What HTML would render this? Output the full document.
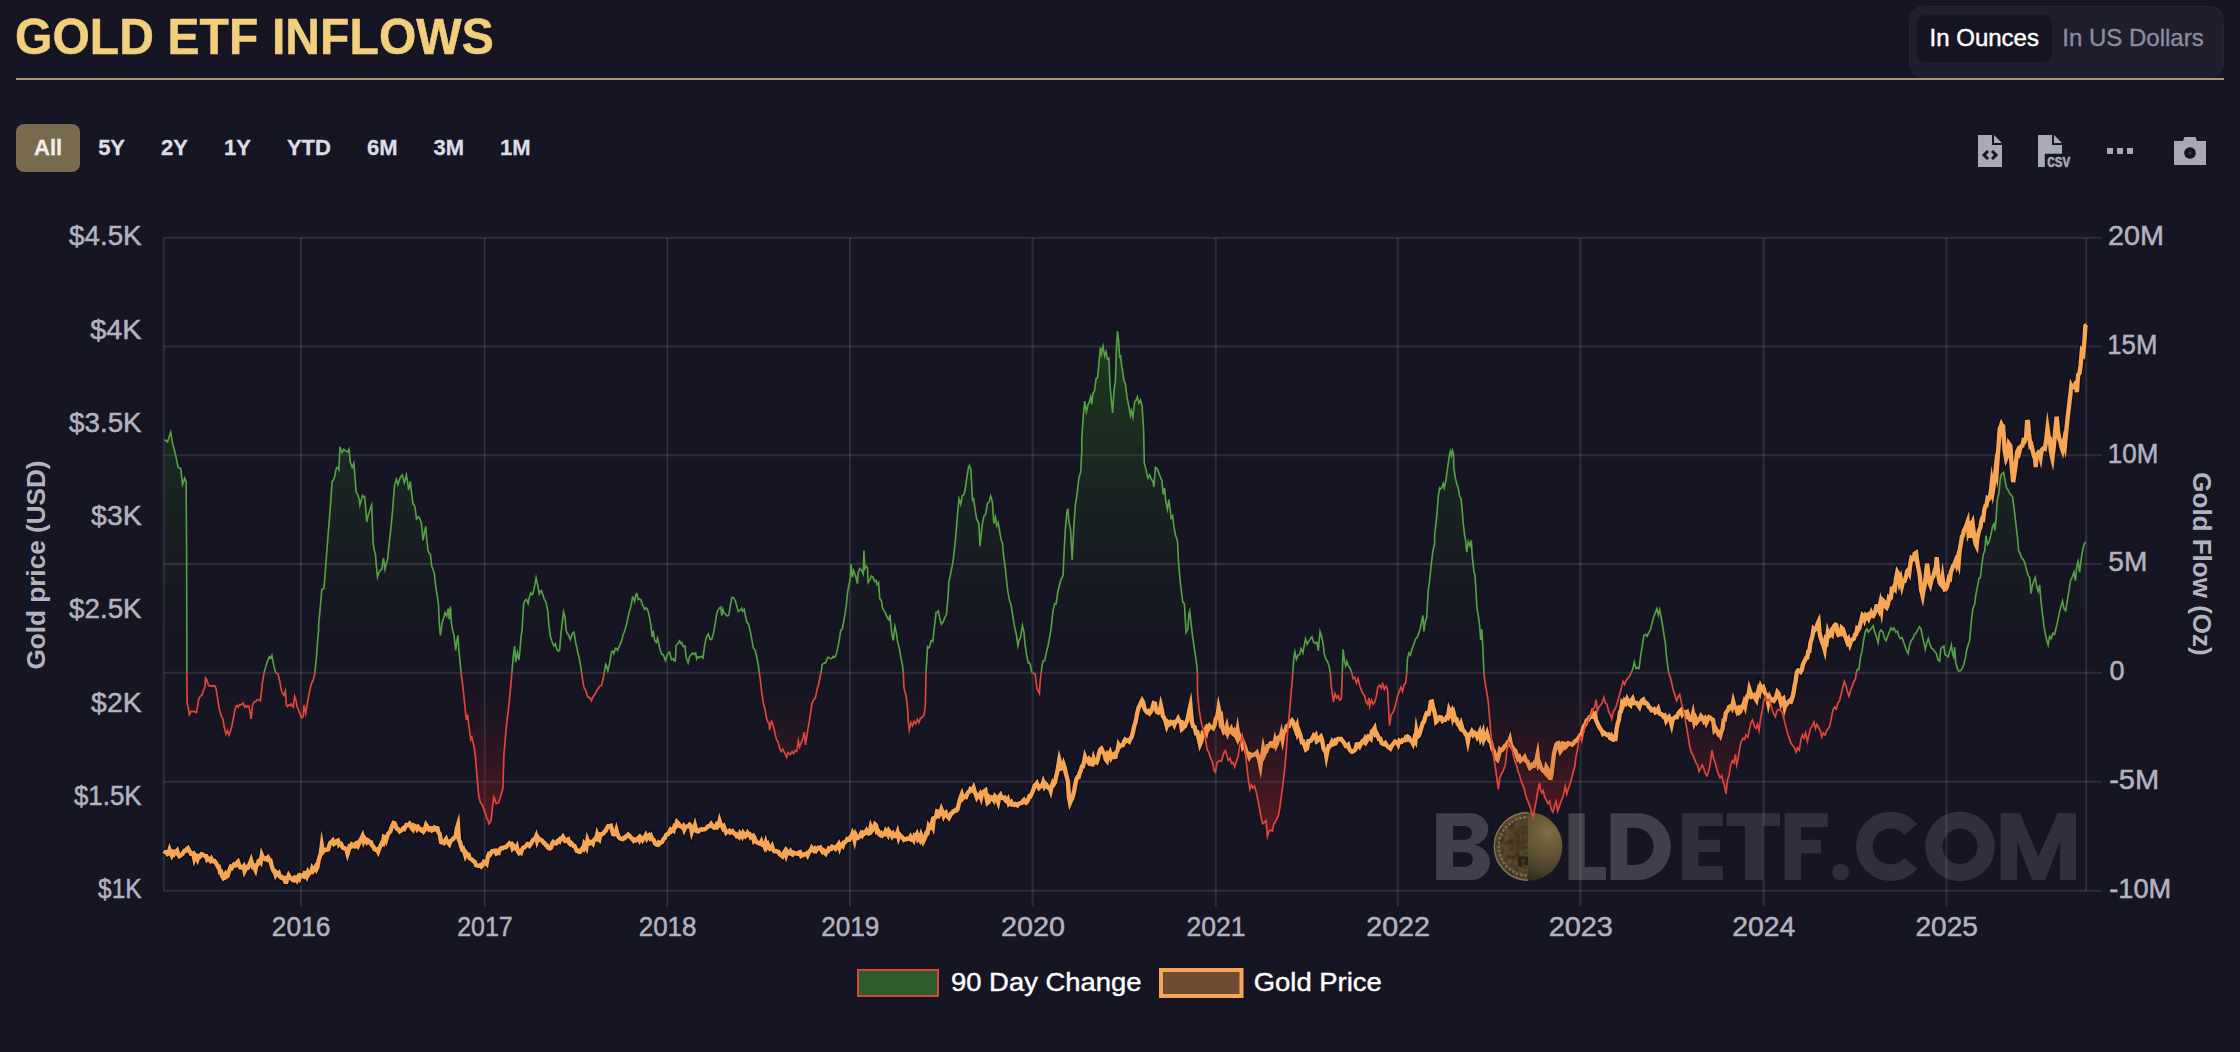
<!DOCTYPE html>
<html><head><meta charset="utf-8"><title>Gold ETF Inflows</title>
<style>
html,body{margin:0;padding:0;}
body{width:2240px;height:1052px;background:#161523;overflow:hidden;position:relative;font-family:"Liberation Sans",sans-serif;}
.title{position:absolute;left:15px;top:6.6px;font-size:48px;font-weight:bold;color:#f2cf7c;line-height:62px;white-space:nowrap;letter-spacing:0.1px;transform:scale(1,1.025);transform-origin:0 48px;-webkit-text-stroke:0.5px #f2cf7c;}
.rule{position:absolute;left:16px;top:78px;width:2208px;height:2px;background:#a79879;}
.toggle{position:absolute;left:1909px;top:6px;width:315px;height:72px;background:#1f1e2f;border-radius:14px;box-sizing:border-box;border:1px solid #242437;}
.toggle .on{position:absolute;left:7px;top:8px;width:134.5px;height:46.5px;border-radius:8px;background:#161523;color:#fff;font-size:24px;line-height:46px;text-align:center;-webkit-text-stroke:0.45px #fff;}
.toggle .off{position:absolute;left:140.5px;top:8px;width:165px;height:46.5px;color:#8c8c9b;font-size:24px;line-height:46px;text-align:center;-webkit-text-stroke:0.35px #8c8c9b;}
.tabs{position:absolute;left:16px;top:124px;height:48px;display:flex;}
.tabs div{height:48px;line-height:47px;padding:0 18px;font-size:22px;font-weight:bold;color:#dcdce6;border-radius:8px;-webkit-text-stroke:0.3px;}
.tabs div.act{background:#786a4f;color:#f3eee4;}
</style></head><body>
<div class="title">GOLD ETF INFLOWS</div>
<div class="rule"></div>
<div class="toggle"><div class="on">In Ounces</div><div class="off">In US Dollars</div></div>
<div class="tabs"><div class="act">All</div><div>5Y</div><div>2Y</div><div>1Y</div><div>YTD</div><div>6M</div><div>3M</div><div>1M</div></div>
<svg width="2240" height="1052" viewBox="0 0 2240 1052" style="position:absolute;left:0;top:0">
<defs>
<linearGradient id="gf" gradientUnits="userSpaceOnUse" x1="0" y1="237.8" x2="0" y2="890.8"><stop offset="0.0000" stop-color="#2a8a14" stop-opacity="0.4700"/><stop offset="0.0666" stop-color="#2a8a14" stop-opacity="0.4013"/><stop offset="0.1332" stop-color="#2a8a14" stop-opacity="0.3363"/><stop offset="0.1998" stop-color="#2a8a14" stop-opacity="0.2753"/><stop offset="0.2665" stop-color="#2a8a14" stop-opacity="0.2184"/><stop offset="0.3331" stop-color="#2a8a14" stop-opacity="0.1662"/><stop offset="0.3997" stop-color="#2a8a14" stop-opacity="0.1189"/><stop offset="0.4663" stop-color="#2a8a14" stop-opacity="0.0772"/><stop offset="0.5329" stop-color="#2a8a14" stop-opacity="0.0420"/><stop offset="0.5995" stop-color="#2a8a14" stop-opacity="0.0149"/><stop offset="0.6662" stop-color="#2a8a14" stop-opacity="0.0000"/><stop offset="0.6662" stop-color="#aa1e1c" stop-opacity="0.0000"/><stop offset="0.6995" stop-color="#aa1e1c" stop-opacity="0.0179"/><stop offset="0.7329" stop-color="#aa1e1c" stop-opacity="0.0562"/><stop offset="0.7663" stop-color="#aa1e1c" stop-opacity="0.1097"/><stop offset="0.7997" stop-color="#aa1e1c" stop-opacity="0.1764"/><stop offset="0.8331" stop-color="#aa1e1c" stop-opacity="0.2549"/><stop offset="0.8665" stop-color="#aa1e1c" stop-opacity="0.3444"/><stop offset="0.8998" stop-color="#aa1e1c" stop-opacity="0.4441"/><stop offset="0.9332" stop-color="#aa1e1c" stop-opacity="0.5536"/><stop offset="0.9666" stop-color="#aa1e1c" stop-opacity="0.6723"/><stop offset="1.0000" stop-color="#aa1e1c" stop-opacity="0.8000"/></linearGradient>
<clipPath id="cu"><rect x="159.8" y="200" width="1930.4" height="472.8"/></clipPath>
<clipPath id="cd"><rect x="159.8" y="672.8" width="1930.4" height="327.2"/></clipPath>
<clipPath id="cc"><circle cx="1528" cy="846.4" r="33"/></clipPath>
<filter id="tex" x="0" y="0" width="100%" height="100%" color-interpolation-filters="sRGB"><feTurbulence type="fractalNoise" baseFrequency="0.2" numOctaves="2" seed="4" result="n"/><feColorMatrix in="n" type="matrix" values="0 0 0 0 0.2  0 0 0 0 0.15  0 0 0 0 0.08  1.4 1.0 0 0 -0.95"/></filter>
<clipPath id="cl"><rect x="1400" y="800" width="128" height="100"/></clipPath>
<clipPath id="cr"><rect x="1528" y="800" width="100" height="100"/></clipPath>
<radialGradient id="sph" gradientUnits="userSpaceOnUse" cx="1548.5" cy="832.5" r="48">
<stop offset="0" stop-color="#7d6f45"/><stop offset="0.2" stop-color="#6f623d"/><stop offset="0.5" stop-color="#5f5335"/><stop offset="0.8" stop-color="#4a3f2a"/><stop offset="1" stop-color="#342c1f"/>
</radialGradient>
<radialGradient id="coin" gradientUnits="userSpaceOnUse" cx="1528" cy="846.4" r="34.4">
<stop offset="0" stop-color="#5a4829"/><stop offset="0.6" stop-color="#65532f"/><stop offset="0.8" stop-color="#6f5c36"/><stop offset="0.93" stop-color="#87744a"/><stop offset="1" stop-color="#6a5a3a"/>
</radialGradient>
</defs>
<g fill="#403f4c">
<rect x="1436.1" y="813.3" width="35" height="66.7"/><ellipse cx="1470.5" cy="829.2" rx="17.8" ry="15.9"/><ellipse cx="1471" cy="862.3" rx="19" ry="17.7"/>
<path d="M1568.5 813.3 H1584.8 V867 H1606 V880 H1568.5 Z"/>
<path fill-rule="evenodd" d="M1610.7 813.3 H1637.6 A33.35 33.35 0 0 1 1637.6 880 H1610.7 Z M1627.2 827.8 H1634.9 A18.6 18.6 0 0 1 1634.9 865 H1627.2 Z"/>
</g>
<path fill="#161523" d="M1453 826.1 H1465 A6.85 6.85 0 0 1 1465 839.8 H1453 Z M1453 852.2 H1465.6 A7.25 7.25 0 0 1 1465.6 866.7 H1453 Z"/>
<g fill="#312f3d">
<path d="M1682 813.3 H1722.8 V826.1 H1698.4 V839.8 H1720.2 V852 H1698.4 V865.9 H1722.8 V880 H1682 Z"/>
<path d="M1726.6 813.3 H1780 V826.3 H1763 V880 H1745 V826.3 H1726.6 Z"/>
<path d="M1784.5 813.3 H1827.7 V827 H1801.2 V839.8 H1821 V853.4 H1801.2 V880 H1784.5 Z"/>
<circle cx="1840.6" cy="872.2" r="8.3"/>
<path d="M2000.7 813.3 H2020 L2038.3 856.5 L2057.6 813.3 H2076 V880 H2060.1 V841 L2045.2 880 H2031.9 L2017.2 841 V880 H2000.7 Z"/>
</g>
<path fill="none" stroke="#312f3d" stroke-width="16.6" d="M1910.8 829.5 A26.3 26.3 0 1 0 1910.8 863.3"/>
<circle cx="1960" cy="846.4" r="26.2" fill="none" stroke="#312f3d" stroke-width="17.2"/>
<g clip-path="url(#cl)"><circle cx="1528" cy="846.4" r="34.4" fill="#5c4c33"/>
<circle cx="1528" cy="846.4" r="22" fill="#4e3f26" opacity="0.6"/>
<rect x="1490" y="808" width="40" height="78" filter="url(#tex)" clip-path="url(#cc)"/>
<circle cx="1528" cy="846.4" r="33.7" fill="none" stroke="#80765a" stroke-width="1.3"/>
<circle cx="1528" cy="846.4" r="29.3" fill="none" stroke="#877552" stroke-width="2.2" stroke-dasharray="2.4 1.9" opacity="0.9"/>
<circle cx="1528" cy="846.4" r="26" fill="none" stroke="#463822" stroke-width="1" opacity="0.7"/>
<path d="M1516 834 h3.5 v28 h-3.5 z M1522 832 h3 v8 h-3 z" fill="#3a2d1a" opacity="0.35"/>
<path d="M1518.5 856.5 h9.5 v9 h-3 v-6 h-3.5 v7 h-3.5 z" fill="#241b0e" opacity="0.8"/>
</g>
<g clip-path="url(#cr)"><circle cx="1528" cy="846.4" r="34.4" fill="url(#sph)"/></g>
<g stroke="rgba(255,255,255,0.105)" stroke-width="2" fill="none">
<path d="M163.8 237.8 H2102.2"/>
<path d="M163.8 346.5 H2102.2"/>
<path d="M163.8 455.3 H2102.2"/>
<path d="M163.8 564.0 H2102.2"/>
<path d="M163.8 672.8 H2102.2"/>
<path d="M163.8 781.7 H2102.2"/>
<path d="M163.8 890.8 H2102.2"/>
<path d="M300.9 237.8 V906.8"/>
<path d="M484.7 237.8 V906.8"/>
<path d="M667.3 237.8 V906.8"/>
<path d="M850.0 237.8 V906.8"/>
<path d="M1032.6 237.8 V906.8"/>
<path d="M1215.7 237.8 V906.8"/>
<path d="M1397.8 237.8 V906.8"/>
<path d="M1580.5 237.8 V906.8"/>
<path d="M1763.5 237.8 V906.8"/>
<path d="M1946.4 237.8 V906.8"/>
<path d="M163.8 237.8 V890.8"/>
<path d="M2086.2 237.8 V890.8"/>
</g>
<path d="M164.3 853.9 L165.4 852.1 L166.4 852.2 L167.5 853.9 L168.6 853.2 L169.6 849.8 L170.7 852.9 L171.8 855.3 L172.9 852.8 L173.9 853.9 L175.0 851.7 L176.1 852.0 L177.1 850.7 L178.2 854.4 L179.3 856.1 L180.4 855.4 L181.4 854.7 L182.5 853.9 L183.6 852.0 L184.6 850.7 L185.7 850.7 L186.8 848.9 L187.9 848.1 L188.9 850.2 L190.0 851.8 L191.1 853.9 L192.1 853.9 L193.2 853.5 L194.3 858.6 L195.4 855.4 L196.4 856.6 L197.5 859.3 L198.6 856.1 L200.0 856.6 L201.4 854.3 L202.9 854.6 L203.9 855.4 L205.0 856.0 L206.1 856.1 L207.1 859.4 L208.2 858.3 L209.3 859.3 L210.4 860.6 L211.4 858.9 L212.5 861.0 L213.6 861.4 L214.6 861.1 L215.7 862.5 L216.8 864.6 L217.9 866.8 L218.9 866.8 L220.0 872.1 L221.1 871.9 L222.1 876.0 L223.2 877.8 L224.3 876.3 L225.4 874.3 L226.4 876.8 L227.5 876.1 L228.6 872.6 L229.6 869.6 L230.7 867.0 L231.8 867.9 L232.9 865.9 L233.9 864.6 L235.3 865.4 L236.7 863.1 L238.0 861.7 L239.3 865.7 L240.4 867.4 L241.4 867.6 L242.5 867.4 L243.6 866.2 L244.6 871.1 L245.7 868.9 L246.8 867.2 L247.9 867.6 L248.9 865.7 L250.0 863.2 L251.1 860.2 L252.1 863.6 L253.2 867.5 L254.3 867.7 L255.4 870.0 L256.4 865.1 L257.5 864.6 L258.6 861.0 L259.6 860.4 L260.7 861.9 L261.8 855.0 L262.9 857.7 L263.9 858.2 L265.0 859.0 L266.1 858.3 L267.1 859.3 L268.2 857.7 L269.3 859.7 L270.4 860.3 L271.4 864.6 L272.5 868.4 L273.6 871.1 L274.6 871.1 L275.7 874.9 L276.8 873.2 L277.9 874.3 L278.9 873.2 L280.0 876.6 L281.1 877.5 L282.1 877.1 L283.2 878.4 L284.3 878.1 L285.4 881.8 L286.4 881.8 L287.5 878.1 L288.6 875.4 L289.9 877.7 L291.1 878.1 L292.5 879.8 L293.9 880.3 L295.0 877.4 L296.1 877.5 L297.1 879.7 L298.2 877.0 L299.3 878.6 L300.4 875.5 L301.4 876.1 L302.5 875.4 L303.6 876.2 L304.6 873.0 L305.7 873.2 L306.8 875.9 L307.9 872.1 L308.9 873.9 L310.0 872.3 L311.1 872.1 L312.1 868.6 L313.2 870.6 L314.3 868.9 L315.4 867.0 L316.4 869.2 L317.5 866.8 L318.6 860.3 L319.6 857.1 L320.7 853.6 L321.8 845.4 L322.9 851.9 L323.9 850.7 L325.0 849.6 L326.1 849.6 L327.1 849.7 L328.2 849.3 L329.3 845.4 L330.4 842.8 L331.4 842.1 L332.7 840.6 L334.0 843.9 L335.4 842.9 L336.8 841.1 L337.9 840.6 L338.9 844.3 L340.0 843.1 L341.1 843.8 L342.1 846.4 L343.2 848.0 L344.3 848.0 L345.4 848.6 L346.4 849.6 L347.5 853.8 L348.6 850.3 L349.6 846.3 L350.7 846.5 L351.8 844.3 L352.9 844.9 L353.9 846.4 L355.0 846.5 L356.1 843.2 L357.1 842.8 L358.2 845.4 L359.3 843.0 L360.4 840.0 L361.4 838.6 L362.5 836.1 L363.6 840.9 L364.6 838.4 L365.7 840.0 L366.8 842.0 L367.9 840.4 L368.9 841.1 L370.0 842.8 L371.1 842.6 L372.1 845.4 L373.2 846.4 L374.3 848.9 L375.4 849.6 L376.7 849.3 L378.1 851.8 L379.4 848.0 L380.7 845.4 L381.8 843.1 L382.9 843.7 L383.9 836.8 L385.0 837.3 L386.1 840.0 L387.1 836.8 L388.2 833.6 L389.3 832.5 L390.4 831.4 L391.4 827.9 L392.5 825.1 L393.6 822.9 L394.6 823.2 L395.7 826.1 L397.0 828.9 L398.3 829.3 L399.7 831.4 L401.1 830.4 L402.1 829.6 L403.2 828.3 L404.3 828.9 L405.4 826.8 L406.4 825.0 L407.5 825.0 L408.6 825.2 L409.6 823.9 L410.7 825.6 L411.8 828.2 L412.9 829.4 L413.9 825.5 L415.0 826.1 L416.1 826.9 L417.1 828.9 L418.2 827.1 L419.3 828.4 L420.4 829.5 L421.4 830.4 L422.5 829.7 L423.6 831.4 L424.9 829.6 L426.1 825.0 L427.5 827.0 L428.9 829.3 L430.0 828.2 L431.1 828.2 L432.1 830.4 L433.2 829.9 L434.3 827.9 L435.4 828.9 L436.4 827.9 L437.5 828.2 L438.6 832.8 L439.6 833.6 L441.1 842.1 L442.5 842.6 L443.9 843.2 L445.0 840.7 L446.1 839.1 L447.1 842.1 L448.2 842.8 L449.3 844.2 L450.4 841.1 L451.7 840.3 L453.1 838.9 L454.4 837.3 L455.7 836.8 L456.8 828.6 L457.9 825.0 L458.9 840.0 L460.0 842.0 L461.1 846.4 L462.1 849.2 L463.2 848.5 L464.3 851.8 L465.4 855.6 L466.4 853.4 L467.5 855.0 L468.6 854.8 L469.6 858.3 L470.7 858.9 L472.0 859.5 L473.3 861.0 L474.7 861.8 L476.1 865.3 L477.1 865.4 L478.2 865.8 L479.3 865.7 L480.4 865.1 L481.4 866.4 L482.5 865.3 L483.9 861.8 L485.3 862.5 L486.6 863.8 L487.9 856.7 L488.9 854.1 L490.0 854.7 L491.1 852.9 L492.1 851.2 L493.2 851.2 L494.3 850.7 L495.4 850.6 L496.4 853.4 L497.5 852.9 L498.6 853.1 L499.6 849.7 L500.7 848.6 L501.8 847.9 L502.9 848.3 L503.9 847.5 L505.0 847.2 L506.1 847.1 L507.1 846.0 L508.2 844.8 L509.3 843.4 L510.4 844.3 L511.4 843.9 L512.5 848.0 L513.6 846.4 L514.6 848.3 L515.7 848.6 L516.8 846.6 L517.9 851.3 L518.9 852.9 L520.0 851.6 L521.1 852.6 L522.1 849.6 L523.2 847.7 L524.3 847.4 L525.4 846.4 L526.4 845.6 L527.5 844.0 L528.6 844.3 L529.6 845.6 L530.7 844.1 L531.8 842.1 L532.9 840.1 L533.9 839.3 L535.0 838.9 L536.1 836.3 L537.1 840.8 L538.2 837.9 L539.3 839.4 L540.4 839.6 L541.4 840.0 L542.5 841.2 L543.6 842.9 L544.6 843.2 L545.7 845.0 L546.8 845.3 L547.9 847.5 L548.9 848.2 L550.0 848.6 L551.1 847.8 L552.1 843.6 L553.2 842.1 L554.3 843.1 L555.4 843.4 L556.4 843.2 L557.5 840.9 L558.6 840.1 L559.6 841.1 L560.7 838.5 L561.8 838.6 L562.9 836.8 L563.9 838.6 L565.0 841.1 L566.1 841.1 L567.1 839.7 L568.2 839.2 L569.3 843.2 L570.4 844.2 L571.4 843.2 L572.5 844.3 L573.6 845.9 L574.6 846.1 L575.7 848.6 L576.8 850.7 L577.9 850.7 L578.9 851.8 L580.0 851.9 L581.1 849.9 L582.1 848.6 L583.2 849.3 L584.3 843.9 L585.4 845.4 L586.4 847.4 L587.5 840.2 L588.6 843.2 L589.6 843.5 L590.7 841.9 L591.8 842.1 L592.9 843.4 L593.9 840.1 L595.0 838.9 L596.1 839.2 L597.1 834.7 L598.2 837.9 L599.3 839.3 L600.4 834.4 L601.4 834.6 L602.5 833.8 L603.6 833.1 L604.6 831.4 L605.7 830.9 L606.8 828.2 L608.2 826.1 L609.6 826.1 L610.9 825.7 L612.1 830.4 L613.2 834.1 L614.3 834.4 L615.4 833.6 L616.4 830.0 L617.5 834.2 L618.6 836.8 L619.6 838.0 L620.7 838.6 L621.8 838.9 L622.9 839.1 L623.9 837.8 L625.0 837.9 L626.1 836.3 L627.1 836.1 L628.2 834.6 L629.3 835.4 L630.4 837.3 L631.4 837.9 L632.5 839.3 L633.6 840.7 L634.6 839.6 L635.8 840.3 L637.0 839.4 L638.2 838.2 L639.3 840.1 L640.4 837.2 L641.4 838.2 L642.5 840.0 L643.6 838.0 L644.6 837.6 L645.7 835.4 L646.8 838.2 L647.9 836.1 L648.9 835.4 L650.0 837.7 L651.1 836.1 L652.5 839.3 L653.9 840.4 L655.1 843.4 L656.4 844.6 L657.5 844.9 L658.6 842.7 L659.6 843.6 L660.7 842.5 L661.8 842.1 L662.9 840.4 L663.9 838.6 L665.0 837.8 L666.1 835.0 L667.1 834.3 L668.2 834.1 L669.3 831.8 L670.4 829.8 L671.4 831.0 L672.5 829.6 L673.6 830.5 L674.6 826.0 L675.7 826.4 L677.0 821.9 L678.3 823.2 L679.7 825.9 L681.1 826.4 L682.1 827.1 L683.2 826.0 L684.3 829.6 L685.6 826.9 L686.9 826.4 L688.2 826.2 L689.6 824.7 L690.7 825.8 L691.8 831.8 L692.9 828.6 L693.9 829.3 L695.0 825.4 L696.1 829.6 L697.1 831.1 L698.2 831.5 L699.3 830.7 L700.4 829.4 L701.4 829.2 L702.5 829.6 L703.6 829.2 L704.6 829.2 L705.7 828.6 L706.8 827.7 L707.9 826.4 L708.9 826.4 L710.0 825.6 L711.1 823.9 L712.1 825.4 L713.2 827.2 L714.3 827.8 L715.4 827.5 L716.4 825.1 L717.5 826.8 L718.6 825.4 L719.6 820.9 L720.7 824.4 L721.8 825.4 L722.9 828.0 L723.9 826.6 L725.0 829.6 L726.1 832.5 L727.1 831.5 L728.2 831.8 L729.3 830.9 L730.4 832.5 L731.4 831.8 L732.5 831.1 L733.6 832.6 L734.6 833.9 L735.7 833.9 L736.8 836.3 L737.9 836.1 L738.9 837.0 L740.0 833.5 L741.1 835.0 L742.1 836.5 L743.2 833.1 L744.3 834.6 L745.4 836.1 L746.4 835.0 L747.5 832.9 L748.6 834.7 L749.6 834.3 L750.7 837.1 L751.8 836.1 L752.9 835.7 L753.9 840.4 L755.0 839.0 L756.1 841.6 L757.1 842.5 L758.2 842.7 L759.3 843.6 L760.4 843.6 L761.4 841.5 L762.5 844.7 L763.6 844.6 L764.6 846.8 L765.7 842.8 L766.8 846.8 L767.9 844.8 L768.9 847.6 L770.0 848.9 L771.1 848.3 L772.1 846.3 L773.2 849.6 L774.3 851.3 L775.4 851.3 L776.4 851.1 L777.5 851.9 L778.6 851.9 L779.6 854.3 L781.0 855.2 L782.4 856.4 L783.7 853.2 L785.0 851.1 L786.1 854.9 L787.1 851.6 L788.2 853.2 L789.3 853.3 L790.4 851.6 L791.4 853.9 L792.5 854.5 L793.6 852.7 L794.6 853.2 L795.7 853.3 L796.8 853.7 L797.9 853.9 L798.9 852.5 L800.0 852.2 L801.1 855.4 L802.1 854.5 L803.2 855.1 L804.3 854.3 L805.4 854.3 L806.4 853.6 L807.5 855.4 L808.6 852.8 L809.6 851.1 L810.7 850.6 L811.8 847.9 L812.9 849.3 L813.9 850.5 L815.0 848.9 L816.1 850.4 L817.1 849.0 L818.2 847.9 L819.3 848.3 L820.4 847.7 L821.4 850.0 L822.5 851.8 L823.6 850.7 L824.6 852.1 L825.7 853.5 L826.8 851.2 L827.9 851.1 L828.9 848.4 L830.0 848.8 L831.1 848.9 L832.1 846.7 L833.2 847.0 L834.3 847.9 L835.4 848.8 L836.4 847.1 L837.5 845.7 L838.6 844.1 L839.6 847.8 L840.7 844.6 L841.8 844.2 L842.9 845.6 L843.9 842.5 L845.0 842.3 L846.1 841.0 L847.1 839.3 L848.2 839.9 L849.3 839.7 L850.4 837.1 L851.4 836.5 L852.5 833.4 L853.6 836.1 L854.6 840.1 L855.7 834.9 L856.8 837.1 L857.9 837.9 L858.9 836.9 L860.0 836.1 L861.1 833.7 L862.1 835.2 L863.2 832.9 L864.3 833.6 L865.4 832.3 L866.4 830.7 L867.5 833.1 L868.6 833.6 L869.6 832.9 L870.7 827.5 L871.8 830.9 L872.9 829.6 L873.9 827.1 L875.0 824.3 L876.1 825.3 L877.1 831.8 L878.2 831.3 L879.3 834.1 L880.4 835.0 L881.4 833.6 L882.5 835.2 L883.6 833.9 L884.6 834.1 L885.7 831.1 L886.8 832.9 L887.9 834.8 L888.9 830.9 L890.0 832.4 L891.1 833.3 L892.1 835.9 L893.2 833.9 L894.3 836.0 L895.4 836.0 L896.4 835.4 L897.5 832.3 L898.6 837.4 L899.6 834.6 L900.7 835.8 L901.8 836.8 L902.9 838.2 L903.9 839.8 L905.0 839.1 L906.1 839.3 L907.1 838.6 L908.2 838.9 L909.3 838.9 L910.4 836.9 L911.4 839.1 L912.5 838.2 L913.6 839.9 L914.6 835.5 L915.7 836.1 L916.8 834.2 L917.9 838.5 L918.9 837.1 L920.0 839.4 L921.1 835.4 L922.1 838.2 L923.2 841.5 L924.3 839.3 L925.4 836.5 L926.4 832.9 L927.5 833.1 L928.6 826.7 L929.6 828.6 L930.7 828.0 L931.8 823.6 L932.9 826.4 L933.9 818.1 L935.0 817.9 L936.1 816.9 L937.1 811.4 L938.2 811.8 L939.3 814.6 L940.4 812.6 L941.4 809.3 L942.5 812.0 L943.6 815.7 L944.6 813.3 L945.7 812.5 L946.8 815.8 L947.9 816.8 L948.9 817.9 L950.0 815.8 L951.1 813.6 L952.1 813.2 L953.2 811.4 L954.3 811.4 L955.4 810.1 L956.4 810.4 L957.5 809.3 L958.6 804.8 L959.6 800.7 L960.7 797.2 L961.8 794.3 L962.9 798.2 L963.9 797.0 L965.0 796.4 L966.1 796.9 L967.1 794.4 L968.2 792.1 L969.3 791.9 L970.4 789.2 L971.4 790.0 L972.5 790.6 L973.6 787.9 L974.6 791.2 L975.7 794.3 L976.8 797.5 L977.9 795.6 L978.9 796.4 L980.0 794.3 L981.1 797.6 L982.1 793.2 L983.2 792.3 L984.3 791.1 L985.4 790.3 L986.4 796.8 L987.5 802.9 L988.6 802.0 L989.6 797.5 L990.7 798.7 L991.8 797.6 L992.9 798.6 L993.9 800.2 L995.0 796.3 L996.1 797.5 L997.1 798.8 L998.2 802.1 L999.3 796.4 L1000.4 795.0 L1001.4 797.8 L1002.5 797.5 L1003.6 798.3 L1004.6 797.8 L1005.7 800.7 L1006.8 801.5 L1007.9 799.6 L1008.9 803.9 L1010.0 803.0 L1011.1 802.0 L1012.1 804.6 L1013.2 804.4 L1014.3 804.9 L1015.4 803.9 L1016.4 804.2 L1017.5 805.3 L1018.6 803.9 L1019.6 803.3 L1020.7 803.1 L1021.8 802.9 L1022.9 801.1 L1023.9 800.1 L1025.0 801.8 L1026.1 802.8 L1027.1 801.8 L1028.2 799.6 L1029.3 796.4 L1030.4 796.5 L1031.4 794.3 L1032.5 791.9 L1033.6 789.1 L1034.6 785.7 L1035.7 784.5 L1036.8 783.1 L1037.9 785.9 L1038.9 787.9 L1040.0 786.7 L1041.1 785.9 L1042.1 785.7 L1043.2 782.3 L1044.3 785.9 L1045.4 783.6 L1046.4 784.7 L1047.5 787.0 L1048.6 787.9 L1049.6 787.5 L1050.7 790.8 L1051.8 785.7 L1052.9 782.7 L1053.9 784.1 L1055.0 782.5 L1056.1 776.8 L1057.1 772.9 L1058.2 766.4 L1059.3 760.0 L1060.4 764.4 L1061.4 768.6 L1062.5 768.3 L1063.6 764.3 L1064.6 767.2 L1065.7 772.9 L1066.8 776.7 L1067.9 781.4 L1068.9 796.8 L1070.0 802.9 L1071.1 800.3 L1072.1 798.6 L1073.2 794.9 L1074.3 790.0 L1075.4 783.9 L1076.4 779.3 L1077.5 777.2 L1078.6 777.1 L1079.6 773.1 L1080.7 770.7 L1081.8 766.5 L1082.9 766.4 L1083.9 762.6 L1085.0 756.8 L1086.1 759.7 L1087.1 760.0 L1088.2 761.7 L1089.3 758.9 L1090.4 760.0 L1091.4 764.3 L1092.5 764.4 L1093.6 758.9 L1094.6 762.1 L1095.7 761.0 L1096.8 762.0 L1097.9 758.9 L1099.0 753.3 L1100.2 749.7 L1101.4 748.6 L1102.5 751.0 L1103.6 752.9 L1104.6 754.1 L1105.7 759.3 L1106.8 760.7 L1107.9 754.1 L1108.9 755.0 L1110.0 752.7 L1111.1 757.1 L1112.1 755.0 L1113.2 754.4 L1114.3 757.1 L1115.4 756.9 L1116.4 752.4 L1117.5 750.7 L1118.6 744.9 L1119.6 746.7 L1120.7 745.4 L1121.8 745.6 L1122.9 745.3 L1123.9 742.1 L1125.0 739.8 L1126.1 740.8 L1127.1 740.0 L1128.2 740.2 L1129.3 741.4 L1130.4 738.9 L1131.7 736.9 L1133.1 731.4 L1134.2 726.1 L1135.3 722.9 L1136.4 717.7 L1137.4 712.1 L1138.5 707.9 L1139.6 705.7 L1140.9 702.8 L1142.1 700.4 L1143.2 702.3 L1144.3 707.9 L1145.6 710.8 L1146.9 712.1 L1148.2 711.2 L1149.6 713.2 L1151.0 711.3 L1152.4 707.9 L1153.7 703.1 L1155.0 703.6 L1156.1 710.2 L1157.1 712.1 L1158.4 712.7 L1159.7 711.1 L1160.8 705.5 L1161.9 710.0 L1162.9 716.3 L1164.0 717.5 L1165.4 720.8 L1166.8 726.1 L1168.2 722.5 L1169.6 723.9 L1170.9 722.1 L1172.1 722.9 L1173.2 722.4 L1174.3 724.8 L1175.4 721.8 L1176.7 721.3 L1178.1 718.6 L1179.4 721.4 L1180.7 721.8 L1181.8 729.1 L1182.9 728.2 L1183.9 723.9 L1185.3 725.1 L1186.7 721.8 L1187.8 718.4 L1188.9 712.1 L1190.4 705.7 L1191.9 721.8 L1193.2 726.4 L1194.6 727.1 L1196.0 732.9 L1197.4 732.5 L1198.7 738.3 L1200.0 744.3 L1201.3 741.1 L1202.6 733.6 L1204.0 734.8 L1205.4 730.4 L1206.4 732.4 L1207.5 727.2 L1208.6 728.2 L1209.6 725.8 L1210.7 727.1 L1211.8 727.1 L1213.2 728.2 L1214.6 725.0 L1215.6 719.1 L1216.7 717.5 L1217.7 713.9 L1218.6 707.9 L1219.5 712.0 L1220.4 720.7 L1221.4 718.5 L1222.5 728.2 L1223.6 731.2 L1224.6 729.7 L1225.7 731.4 L1226.8 727.2 L1227.9 732.8 L1228.9 730.4 L1230.0 730.8 L1231.1 729.0 L1232.1 732.5 L1233.2 733.6 L1234.3 731.6 L1235.4 734.6 L1236.4 736.7 L1237.5 730.3 L1238.6 737.9 L1239.6 735.7 L1240.7 738.0 L1241.8 738.9 L1242.9 746.0 L1243.9 744.3 L1245.3 747.9 L1246.7 752.9 L1248.0 753.7 L1249.3 757.1 L1250.4 754.7 L1251.4 755.7 L1252.5 755.0 L1253.6 754.9 L1254.6 754.2 L1255.7 753.9 L1256.8 752.8 L1257.9 756.6 L1258.9 758.2 L1260.4 765.7 L1261.3 758.8 L1262.1 756.1 L1263.2 749.0 L1264.3 754.4 L1265.4 751.8 L1266.4 751.2 L1267.5 746.3 L1268.6 746.4 L1269.6 744.9 L1270.7 743.2 L1271.8 743.2 L1272.9 746.2 L1273.9 746.4 L1275.0 741.0 L1276.1 745.4 L1277.1 743.2 L1278.2 737.7 L1279.3 736.9 L1280.4 737.9 L1281.4 733.7 L1282.5 739.1 L1283.6 732.5 L1284.6 731.0 L1285.7 730.2 L1286.8 726.1 L1287.9 725.5 L1288.9 725.8 L1290.0 721.8 L1291.1 722.2 L1292.1 720.7 L1293.2 722.2 L1294.3 726.1 L1295.6 729.7 L1296.9 726.1 L1297.9 733.5 L1299.0 731.4 L1300.4 735.4 L1301.8 742.1 L1303.2 741.7 L1304.6 745.4 L1305.9 749.5 L1307.1 748.6 L1308.4 741.1 L1309.7 741.1 L1311.1 740.5 L1312.5 737.9 L1313.6 735.7 L1314.6 736.8 L1315.7 735.4 L1316.8 741.1 L1318.2 740.1 L1319.6 737.9 L1320.9 736.6 L1322.1 740.0 L1323.4 748.0 L1324.7 750.7 L1325.6 751.1 L1326.4 756.1 L1327.5 750.5 L1328.6 746.4 L1329.6 746.5 L1330.7 744.6 L1331.8 742.1 L1332.9 744.4 L1333.9 744.0 L1335.0 741.1 L1336.1 742.1 L1337.1 739.6 L1338.2 738.9 L1339.6 739.2 L1341.0 738.9 L1342.3 740.7 L1343.6 742.1 L1344.6 743.7 L1345.7 746.0 L1346.8 746.4 L1348.2 745.0 L1349.6 749.6 L1350.9 751.0 L1352.1 751.8 L1353.2 751.3 L1354.3 750.5 L1355.4 749.6 L1356.7 744.4 L1358.1 744.3 L1359.6 746.4 L1361.1 743.2 L1362.5 741.2 L1363.9 742.1 L1365.0 739.2 L1366.1 741.8 L1367.1 740.0 L1368.4 736.3 L1369.7 736.8 L1370.8 738.2 L1371.9 731.4 L1373.2 730.5 L1374.6 728.2 L1375.7 734.3 L1376.8 733.6 L1377.9 736.0 L1378.9 738.9 L1380.3 738.8 L1381.7 743.2 L1383.0 744.1 L1384.3 744.3 L1385.4 743.1 L1386.4 744.8 L1387.5 746.4 L1388.9 747.4 L1390.3 748.6 L1391.6 746.0 L1392.9 744.3 L1393.9 743.1 L1395.0 741.6 L1396.1 742.1 L1397.1 742.2 L1398.2 744.5 L1399.3 741.1 L1400.4 742.2 L1401.4 742.0 L1402.5 740.0 L1403.6 740.3 L1404.6 740.3 L1405.7 737.9 L1406.8 738.9 L1407.9 736.7 L1408.9 737.4 L1410.3 740.6 L1411.7 741.1 L1413.0 743.7 L1414.3 738.9 L1415.4 740.9 L1416.4 731.0 L1417.5 736.8 L1418.9 735.5 L1420.3 731.4 L1421.6 726.7 L1422.9 722.9 L1424.1 721.5 L1425.4 716.4 L1426.5 713.7 L1427.6 714.3 L1428.6 714.0 L1429.7 708.9 L1430.8 701.7 L1431.9 701.4 L1432.9 706.8 L1434.0 710.0 L1435.1 714.7 L1436.1 721.8 L1437.2 720.8 L1438.3 718.6 L1439.7 717.2 L1441.1 717.5 L1442.5 720.7 L1443.9 719.6 L1445.1 719.8 L1446.4 717.5 L1447.7 718.0 L1449.0 710.0 L1450.4 713.8 L1451.8 711.1 L1452.9 717.4 L1453.9 714.3 L1455.3 719.9 L1456.7 719.6 L1457.8 724.0 L1458.9 725.0 L1459.9 727.0 L1461.0 723.9 L1462.1 727.7 L1463.1 730.4 L1464.4 731.5 L1465.7 734.6 L1466.8 735.3 L1467.9 741.1 L1469.1 734.6 L1470.4 734.6 L1471.8 731.6 L1473.2 734.6 L1474.6 732.7 L1476.0 733.6 L1477.3 737.0 L1478.6 734.6 L1479.6 732.2 L1480.7 738.3 L1481.8 735.7 L1482.9 732.6 L1483.9 739.3 L1485.0 736.8 L1486.1 737.1 L1487.1 733.8 L1488.2 737.9 L1489.6 741.1 L1491.0 742.1 L1492.3 748.5 L1493.6 750.7 L1494.9 754.4 L1496.1 758.2 L1497.5 759.6 L1498.9 755.0 L1500.0 749.7 L1501.1 750.7 L1502.5 749.6 L1503.9 747.5 L1505.1 745.5 L1506.4 745.4 L1507.5 742.9 L1508.6 743.2 L1509.9 739.4 L1511.1 745.4 L1512.5 747.4 L1513.9 749.6 L1515.3 750.7 L1516.7 755.0 L1518.0 758.6 L1519.3 757.1 L1520.6 760.6 L1521.9 759.3 L1523.2 758.9 L1524.6 757.1 L1526.0 760.8 L1527.4 761.4 L1528.7 765.1 L1530.0 767.9 L1531.3 767.0 L1532.6 764.6 L1534.0 765.3 L1535.4 761.4 L1536.4 760.4 L1537.5 755.0 L1538.6 765.1 L1539.6 763.6 L1540.9 767.4 L1542.1 769.3 L1543.2 770.8 L1544.3 771.4 L1545.4 772.8 L1546.4 767.1 L1547.5 769.0 L1548.6 774.6 L1549.6 777.7 L1550.7 777.9 L1551.6 773.9 L1552.4 767.1 L1553.9 754.3 L1555.4 747.9 L1556.3 744.8 L1557.1 743.6 L1558.2 743.2 L1559.3 747.9 L1560.4 751.5 L1561.4 750.0 L1562.7 743.3 L1564.0 743.6 L1565.4 747.1 L1566.8 745.7 L1568.2 743.1 L1569.6 743.6 L1570.9 744.0 L1572.1 744.6 L1573.4 743.6 L1574.7 741.4 L1576.1 741.0 L1577.5 739.3 L1578.9 737.8 L1580.3 735.0 L1581.6 734.4 L1582.9 728.6 L1584.1 725.7 L1585.4 724.3 L1586.8 720.4 L1588.2 720.0 L1589.6 717.2 L1591.0 716.8 L1592.3 713.1 L1593.6 715.7 L1594.9 714.3 L1596.1 720.0 L1597.5 723.4 L1598.9 726.4 L1600.3 728.8 L1601.7 730.7 L1603.0 733.8 L1604.3 732.9 L1605.6 734.0 L1606.9 735.0 L1608.2 734.5 L1609.6 737.1 L1611.0 735.6 L1612.4 739.3 L1613.5 739.6 L1614.6 737.1 L1615.6 737.9 L1616.7 728.6 L1617.8 723.2 L1618.9 720.0 L1619.9 711.9 L1621.0 711.4 L1622.1 703.5 L1623.1 705.0 L1624.4 701.1 L1625.7 702.9 L1627.0 699.2 L1628.3 701.8 L1629.4 704.1 L1630.4 705.0 L1631.5 700.1 L1632.6 698.6 L1634.0 703.1 L1635.4 702.9 L1636.7 702.9 L1638.1 705.0 L1639.4 707.0 L1640.7 702.9 L1642.0 700.5 L1643.3 699.6 L1644.7 703.1 L1646.1 702.9 L1647.5 704.2 L1648.9 707.1 L1650.1 707.7 L1651.4 710.4 L1652.7 710.2 L1654.0 709.3 L1655.4 712.3 L1656.8 711.4 L1658.2 708.8 L1659.6 713.6 L1660.9 714.1 L1662.1 714.6 L1663.4 716.5 L1664.7 715.7 L1666.1 720.5 L1667.5 717.9 L1668.9 716.7 L1670.3 720.0 L1671.6 724.8 L1672.9 718.9 L1674.1 718.1 L1675.4 716.8 L1676.8 717.1 L1678.2 713.6 L1679.6 711.8 L1681.0 710.4 L1682.3 714.3 L1683.6 712.5 L1684.9 712.2 L1686.1 715.7 L1687.5 713.4 L1688.9 717.9 L1690.3 719.7 L1691.7 720.0 L1693.0 714.3 L1694.3 722.1 L1695.6 718.6 L1696.9 722.1 L1698.2 720.4 L1699.6 718.9 L1701.0 716.1 L1702.4 717.9 L1703.7 720.9 L1705.0 718.9 L1706.3 722.8 L1707.6 720.0 L1709.0 717.2 L1710.4 717.9 L1711.7 719.3 L1713.1 720.0 L1714.4 730.2 L1715.7 728.6 L1717.0 731.3 L1718.3 733.9 L1719.4 732.8 L1720.4 735.0 L1721.5 731.1 L1722.6 728.6 L1723.6 720.3 L1724.7 720.0 L1725.8 712.8 L1726.9 711.4 L1727.9 710.4 L1729.0 707.1 L1730.4 706.3 L1731.8 708.2 L1733.2 701.6 L1734.6 707.1 L1735.9 707.5 L1737.1 711.4 L1738.2 709.5 L1739.3 712.5 L1740.4 711.6 L1741.4 707.1 L1742.7 707.3 L1744.0 702.9 L1745.1 706.2 L1746.1 700.7 L1747.2 696.4 L1748.3 696.4 L1749.4 689.2 L1750.4 692.1 L1751.5 696.8 L1752.6 696.4 L1754.0 695.3 L1755.4 698.6 L1756.4 700.2 L1757.5 694.3 L1758.6 689.8 L1759.6 692.1 L1760.7 686.6 L1761.8 688.9 L1763.2 687.5 L1764.6 692.1 L1765.9 694.4 L1767.1 696.4 L1768.4 703.2 L1769.7 697.5 L1771.1 700.5 L1772.5 699.6 L1773.9 700.7 L1775.3 698.6 L1776.4 695.8 L1777.4 692.1 L1778.5 693.4 L1779.6 697.5 L1780.9 703.0 L1782.1 699.6 L1783.4 698.5 L1784.7 707.1 L1785.8 703.3 L1786.9 703.9 L1788.2 702.1 L1789.6 700.7 L1791.0 701.5 L1792.4 697.5 L1793.5 693.0 L1794.6 685.7 L1795.6 681.2 L1796.7 672.9 L1798.0 670.5 L1799.3 670.7 L1800.6 671.8 L1801.9 669.6 L1802.9 664.5 L1804.0 662.1 L1805.1 660.2 L1806.1 657.9 L1807.2 657.7 L1808.3 651.4 L1809.4 651.2 L1810.4 642.9 L1811.5 639.5 L1812.6 635.4 L1813.6 628.9 L1814.7 630.0 L1815.8 628.7 L1816.9 625.7 L1817.7 623.3 L1818.6 621.4 L1819.4 631.3 L1820.3 636.4 L1821.4 639.7 L1822.4 642.9 L1823.5 645.3 L1824.6 649.3 L1825.6 640.2 L1826.7 641.8 L1827.8 632.8 L1828.9 636.4 L1829.9 635.7 L1831.0 632.1 L1832.1 633.8 L1833.1 627.9 L1834.2 625.9 L1835.3 624.6 L1836.4 625.1 L1837.4 632.1 L1838.5 634.8 L1839.6 634.3 L1840.6 634.3 L1841.7 627.9 L1842.8 628.9 L1843.9 632.1 L1844.9 635.5 L1846.0 638.6 L1847.3 642.2 L1848.6 639.6 L1849.9 644.3 L1851.1 640.7 L1852.5 639.6 L1853.9 638.6 L1855.0 634.7 L1856.1 634.3 L1857.1 628.9 L1858.2 630.0 L1859.3 628.3 L1860.4 623.6 L1861.4 619.8 L1862.5 615.0 L1863.6 615.9 L1864.6 619.3 L1865.7 615.7 L1866.8 617.1 L1867.9 615.6 L1868.9 618.2 L1870.0 615.6 L1871.1 612.9 L1872.1 615.7 L1873.2 616.1 L1874.3 613.9 L1875.4 610.7 L1876.4 606.3 L1877.5 606.4 L1878.9 609.7 L1880.3 603.2 L1881.4 609.5 L1882.5 600.0 L1883.9 601.4 L1885.3 606.4 L1886.6 607.6 L1887.9 604.3 L1888.9 597.9 L1890.0 598.9 L1890.9 597.8 L1891.7 589.3 L1892.8 589.8 L1893.9 587.1 L1894.9 588.5 L1896.0 578.6 L1897.3 572.0 L1898.6 574.3 L1899.6 581.9 L1900.7 578.6 L1902.0 585.7 L1903.3 580.7 L1904.7 580.7 L1906.1 576.4 L1907.1 571.3 L1908.2 570.0 L1909.3 572.6 L1910.4 563.6 L1911.4 558.4 L1912.5 559.3 L1913.6 559.2 L1914.6 553.9 L1916.1 552.9 L1917.0 560.5 L1917.9 565.7 L1918.7 569.6 L1919.6 574.3 L1921.1 589.3 L1922.6 595.7 L1923.4 590.6 L1924.3 587.1 L1925.1 581.9 L1926.0 574.3 L1927.1 563.6 L1928.6 576.4 L1929.4 582.8 L1930.3 585.0 L1931.8 578.6 L1933.3 576.4 L1934.1 572.8 L1935.0 570.0 L1935.9 567.1 L1936.7 557.1 L1938.2 574.3 L1939.7 582.9 L1940.6 584.1 L1941.4 585.0 L1942.5 577.8 L1943.6 586.1 L1944.6 589.5 L1945.7 589.3 L1946.8 587.3 L1947.9 582.9 L1948.9 577.8 L1950.0 578.6 L1950.9 571.7 L1951.7 570.0 L1953.2 565.7 L1954.3 564.4 L1955.4 561.4 L1956.4 564.5 L1957.5 559.3 L1958.6 563.2 L1959.6 550.7 L1961.1 542.1 L1962.0 536.3 L1962.9 535.7 L1963.7 531.3 L1964.6 529.3 L1966.1 526.1 L1967.6 521.8 L1968.4 531.9 L1969.3 529.3 L1970.4 537.7 L1971.4 525.0 L1972.5 522.5 L1973.6 531.4 L1974.6 538.8 L1975.7 544.3 L1976.6 546.2 L1977.4 537.9 L1978.9 531.4 L1980.4 527.1 L1981.3 521.2 L1982.1 518.6 L1983.2 519.2 L1984.3 510.0 L1985.4 506.0 L1986.4 505.7 L1987.5 498.5 L1988.6 499.3 L1989.6 498.4 L1990.7 492.9 L1991.8 483.0 L1992.9 490.7 L1993.9 484.8 L1995.0 475.7 L1995.9 467.3 L1996.7 471.4 L1998.2 450.0 L1999.7 428.6 L2000.6 426.9 L2001.4 424.3 L2002.3 426.1 L2003.1 426.4 L2004.6 450.0 L2006.1 458.6 L2007.0 456.4 L2007.9 454.3 L2008.9 443.6 L2010.4 445.7 L2011.7 467.1 L2013.2 482.1 L2014.7 471.4 L2015.6 465.9 L2016.4 458.6 L2017.3 451.5 L2018.1 450.0 L2019.2 452.5 L2020.3 447.9 L2021.4 445.9 L2022.4 445.7 L2023.5 440.7 L2024.6 441.4 L2026.1 437.1 L2027.1 422.1 L2028.0 422.0 L2028.9 432.9 L2030.4 445.7 L2031.4 444.9 L2032.5 450.0 L2034.0 456.4 L2034.9 456.7 L2035.7 467.1 L2036.6 456.5 L2037.4 454.3 L2038.5 452.4 L2039.6 453.2 L2040.6 457.3 L2041.7 450.0 L2042.8 448.6 L2043.9 447.9 L2044.9 448.5 L2046.0 441.4 L2047.5 428.6 L2049.0 439.3 L2049.9 439.2 L2050.7 450.0 L2051.6 455.3 L2052.4 458.6 L2053.9 445.7 L2055.4 428.6 L2056.7 416.8 L2058.2 432.9 L2059.3 439.0 L2060.4 441.4 L2061.4 446.7 L2062.5 450.0 L2064.0 441.4 L2064.9 445.2 L2065.7 437.1 L2066.6 427.7 L2067.4 420.0 L2068.9 407.1 L2070.4 394.3 L2071.3 386.2 L2072.1 387.9 L2073.0 386.9 L2073.9 385.7 L2075.4 383.6 L2076.9 392.1 L2078.1 375.0 L2079.6 372.9 L2080.7 364.3 L2081.8 351.4 L2083.3 353.6 L2084.6 338.6 L2085.4 325.7 L2086.7 324.6" fill="none" stroke="#0a0912" stroke-opacity="0.75" stroke-width="6.6" stroke-linejoin="miter" stroke-miterlimit="4"/>
<path d="M164.3 853.9 L165.4 852.1 L166.4 852.2 L167.5 853.9 L168.6 853.2 L169.6 849.8 L170.7 852.9 L171.8 855.3 L172.9 852.8 L173.9 853.9 L175.0 851.7 L176.1 852.0 L177.1 850.7 L178.2 854.4 L179.3 856.1 L180.4 855.4 L181.4 854.7 L182.5 853.9 L183.6 852.0 L184.6 850.7 L185.7 850.7 L186.8 848.9 L187.9 848.1 L188.9 850.2 L190.0 851.8 L191.1 853.9 L192.1 853.9 L193.2 853.5 L194.3 858.6 L195.4 855.4 L196.4 856.6 L197.5 859.3 L198.6 856.1 L200.0 856.6 L201.4 854.3 L202.9 854.6 L203.9 855.4 L205.0 856.0 L206.1 856.1 L207.1 859.4 L208.2 858.3 L209.3 859.3 L210.4 860.6 L211.4 858.9 L212.5 861.0 L213.6 861.4 L214.6 861.1 L215.7 862.5 L216.8 864.6 L217.9 866.8 L218.9 866.8 L220.0 872.1 L221.1 871.9 L222.1 876.0 L223.2 877.8 L224.3 876.3 L225.4 874.3 L226.4 876.8 L227.5 876.1 L228.6 872.6 L229.6 869.6 L230.7 867.0 L231.8 867.9 L232.9 865.9 L233.9 864.6 L235.3 865.4 L236.7 863.1 L238.0 861.7 L239.3 865.7 L240.4 867.4 L241.4 867.6 L242.5 867.4 L243.6 866.2 L244.6 871.1 L245.7 868.9 L246.8 867.2 L247.9 867.6 L248.9 865.7 L250.0 863.2 L251.1 860.2 L252.1 863.6 L253.2 867.5 L254.3 867.7 L255.4 870.0 L256.4 865.1 L257.5 864.6 L258.6 861.0 L259.6 860.4 L260.7 861.9 L261.8 855.0 L262.9 857.7 L263.9 858.2 L265.0 859.0 L266.1 858.3 L267.1 859.3 L268.2 857.7 L269.3 859.7 L270.4 860.3 L271.4 864.6 L272.5 868.4 L273.6 871.1 L274.6 871.1 L275.7 874.9 L276.8 873.2 L277.9 874.3 L278.9 873.2 L280.0 876.6 L281.1 877.5 L282.1 877.1 L283.2 878.4 L284.3 878.1 L285.4 881.8 L286.4 881.8 L287.5 878.1 L288.6 875.4 L289.9 877.7 L291.1 878.1 L292.5 879.8 L293.9 880.3 L295.0 877.4 L296.1 877.5 L297.1 879.7 L298.2 877.0 L299.3 878.6 L300.4 875.5 L301.4 876.1 L302.5 875.4 L303.6 876.2 L304.6 873.0 L305.7 873.2 L306.8 875.9 L307.9 872.1 L308.9 873.9 L310.0 872.3 L311.1 872.1 L312.1 868.6 L313.2 870.6 L314.3 868.9 L315.4 867.0 L316.4 869.2 L317.5 866.8 L318.6 860.3 L319.6 857.1 L320.7 853.6 L321.8 845.4 L322.9 851.9 L323.9 850.7 L325.0 849.6 L326.1 849.6 L327.1 849.7 L328.2 849.3 L329.3 845.4 L330.4 842.8 L331.4 842.1 L332.7 840.6 L334.0 843.9 L335.4 842.9 L336.8 841.1 L337.9 840.6 L338.9 844.3 L340.0 843.1 L341.1 843.8 L342.1 846.4 L343.2 848.0 L344.3 848.0 L345.4 848.6 L346.4 849.6 L347.5 853.8 L348.6 850.3 L349.6 846.3 L350.7 846.5 L351.8 844.3 L352.9 844.9 L353.9 846.4 L355.0 846.5 L356.1 843.2 L357.1 842.8 L358.2 845.4 L359.3 843.0 L360.4 840.0 L361.4 838.6 L362.5 836.1 L363.6 840.9 L364.6 838.4 L365.7 840.0 L366.8 842.0 L367.9 840.4 L368.9 841.1 L370.0 842.8 L371.1 842.6 L372.1 845.4 L373.2 846.4 L374.3 848.9 L375.4 849.6 L376.7 849.3 L378.1 851.8 L379.4 848.0 L380.7 845.4 L381.8 843.1 L382.9 843.7 L383.9 836.8 L385.0 837.3 L386.1 840.0 L387.1 836.8 L388.2 833.6 L389.3 832.5 L390.4 831.4 L391.4 827.9 L392.5 825.1 L393.6 822.9 L394.6 823.2 L395.7 826.1 L397.0 828.9 L398.3 829.3 L399.7 831.4 L401.1 830.4 L402.1 829.6 L403.2 828.3 L404.3 828.9 L405.4 826.8 L406.4 825.0 L407.5 825.0 L408.6 825.2 L409.6 823.9 L410.7 825.6 L411.8 828.2 L412.9 829.4 L413.9 825.5 L415.0 826.1 L416.1 826.9 L417.1 828.9 L418.2 827.1 L419.3 828.4 L420.4 829.5 L421.4 830.4 L422.5 829.7 L423.6 831.4 L424.9 829.6 L426.1 825.0 L427.5 827.0 L428.9 829.3 L430.0 828.2 L431.1 828.2 L432.1 830.4 L433.2 829.9 L434.3 827.9 L435.4 828.9 L436.4 827.9 L437.5 828.2 L438.6 832.8 L439.6 833.6 L441.1 842.1 L442.5 842.6 L443.9 843.2 L445.0 840.7 L446.1 839.1 L447.1 842.1 L448.2 842.8 L449.3 844.2 L450.4 841.1 L451.7 840.3 L453.1 838.9 L454.4 837.3 L455.7 836.8 L456.8 828.6 L457.9 825.0 L458.9 840.0 L460.0 842.0 L461.1 846.4 L462.1 849.2 L463.2 848.5 L464.3 851.8 L465.4 855.6 L466.4 853.4 L467.5 855.0 L468.6 854.8 L469.6 858.3 L470.7 858.9 L472.0 859.5 L473.3 861.0 L474.7 861.8 L476.1 865.3 L477.1 865.4 L478.2 865.8 L479.3 865.7 L480.4 865.1 L481.4 866.4 L482.5 865.3 L483.9 861.8 L485.3 862.5 L486.6 863.8 L487.9 856.7 L488.9 854.1 L490.0 854.7 L491.1 852.9 L492.1 851.2 L493.2 851.2 L494.3 850.7 L495.4 850.6 L496.4 853.4 L497.5 852.9 L498.6 853.1 L499.6 849.7 L500.7 848.6 L501.8 847.9 L502.9 848.3 L503.9 847.5 L505.0 847.2 L506.1 847.1 L507.1 846.0 L508.2 844.8 L509.3 843.4 L510.4 844.3 L511.4 843.9 L512.5 848.0 L513.6 846.4 L514.6 848.3 L515.7 848.6 L516.8 846.6 L517.9 851.3 L518.9 852.9 L520.0 851.6 L521.1 852.6 L522.1 849.6 L523.2 847.7 L524.3 847.4 L525.4 846.4 L526.4 845.6 L527.5 844.0 L528.6 844.3 L529.6 845.6 L530.7 844.1 L531.8 842.1 L532.9 840.1 L533.9 839.3 L535.0 838.9 L536.1 836.3 L537.1 840.8 L538.2 837.9 L539.3 839.4 L540.4 839.6 L541.4 840.0 L542.5 841.2 L543.6 842.9 L544.6 843.2 L545.7 845.0 L546.8 845.3 L547.9 847.5 L548.9 848.2 L550.0 848.6 L551.1 847.8 L552.1 843.6 L553.2 842.1 L554.3 843.1 L555.4 843.4 L556.4 843.2 L557.5 840.9 L558.6 840.1 L559.6 841.1 L560.7 838.5 L561.8 838.6 L562.9 836.8 L563.9 838.6 L565.0 841.1 L566.1 841.1 L567.1 839.7 L568.2 839.2 L569.3 843.2 L570.4 844.2 L571.4 843.2 L572.5 844.3 L573.6 845.9 L574.6 846.1 L575.7 848.6 L576.8 850.7 L577.9 850.7 L578.9 851.8 L580.0 851.9 L581.1 849.9 L582.1 848.6 L583.2 849.3 L584.3 843.9 L585.4 845.4 L586.4 847.4 L587.5 840.2 L588.6 843.2 L589.6 843.5 L590.7 841.9 L591.8 842.1 L592.9 843.4 L593.9 840.1 L595.0 838.9 L596.1 839.2 L597.1 834.7 L598.2 837.9 L599.3 839.3 L600.4 834.4 L601.4 834.6 L602.5 833.8 L603.6 833.1 L604.6 831.4 L605.7 830.9 L606.8 828.2 L608.2 826.1 L609.6 826.1 L610.9 825.7 L612.1 830.4 L613.2 834.1 L614.3 834.4 L615.4 833.6 L616.4 830.0 L617.5 834.2 L618.6 836.8 L619.6 838.0 L620.7 838.6 L621.8 838.9 L622.9 839.1 L623.9 837.8 L625.0 837.9 L626.1 836.3 L627.1 836.1 L628.2 834.6 L629.3 835.4 L630.4 837.3 L631.4 837.9 L632.5 839.3 L633.6 840.7 L634.6 839.6 L635.8 840.3 L637.0 839.4 L638.2 838.2 L639.3 840.1 L640.4 837.2 L641.4 838.2 L642.5 840.0 L643.6 838.0 L644.6 837.6 L645.7 835.4 L646.8 838.2 L647.9 836.1 L648.9 835.4 L650.0 837.7 L651.1 836.1 L652.5 839.3 L653.9 840.4 L655.1 843.4 L656.4 844.6 L657.5 844.9 L658.6 842.7 L659.6 843.6 L660.7 842.5 L661.8 842.1 L662.9 840.4 L663.9 838.6 L665.0 837.8 L666.1 835.0 L667.1 834.3 L668.2 834.1 L669.3 831.8 L670.4 829.8 L671.4 831.0 L672.5 829.6 L673.6 830.5 L674.6 826.0 L675.7 826.4 L677.0 821.9 L678.3 823.2 L679.7 825.9 L681.1 826.4 L682.1 827.1 L683.2 826.0 L684.3 829.6 L685.6 826.9 L686.9 826.4 L688.2 826.2 L689.6 824.7 L690.7 825.8 L691.8 831.8 L692.9 828.6 L693.9 829.3 L695.0 825.4 L696.1 829.6 L697.1 831.1 L698.2 831.5 L699.3 830.7 L700.4 829.4 L701.4 829.2 L702.5 829.6 L703.6 829.2 L704.6 829.2 L705.7 828.6 L706.8 827.7 L707.9 826.4 L708.9 826.4 L710.0 825.6 L711.1 823.9 L712.1 825.4 L713.2 827.2 L714.3 827.8 L715.4 827.5 L716.4 825.1 L717.5 826.8 L718.6 825.4 L719.6 820.9 L720.7 824.4 L721.8 825.4 L722.9 828.0 L723.9 826.6 L725.0 829.6 L726.1 832.5 L727.1 831.5 L728.2 831.8 L729.3 830.9 L730.4 832.5 L731.4 831.8 L732.5 831.1 L733.6 832.6 L734.6 833.9 L735.7 833.9 L736.8 836.3 L737.9 836.1 L738.9 837.0 L740.0 833.5 L741.1 835.0 L742.1 836.5 L743.2 833.1 L744.3 834.6 L745.4 836.1 L746.4 835.0 L747.5 832.9 L748.6 834.7 L749.6 834.3 L750.7 837.1 L751.8 836.1 L752.9 835.7 L753.9 840.4 L755.0 839.0 L756.1 841.6 L757.1 842.5 L758.2 842.7 L759.3 843.6 L760.4 843.6 L761.4 841.5 L762.5 844.7 L763.6 844.6 L764.6 846.8 L765.7 842.8 L766.8 846.8 L767.9 844.8 L768.9 847.6 L770.0 848.9 L771.1 848.3 L772.1 846.3 L773.2 849.6 L774.3 851.3 L775.4 851.3 L776.4 851.1 L777.5 851.9 L778.6 851.9 L779.6 854.3 L781.0 855.2 L782.4 856.4 L783.7 853.2 L785.0 851.1 L786.1 854.9 L787.1 851.6 L788.2 853.2 L789.3 853.3 L790.4 851.6 L791.4 853.9 L792.5 854.5 L793.6 852.7 L794.6 853.2 L795.7 853.3 L796.8 853.7 L797.9 853.9 L798.9 852.5 L800.0 852.2 L801.1 855.4 L802.1 854.5 L803.2 855.1 L804.3 854.3 L805.4 854.3 L806.4 853.6 L807.5 855.4 L808.6 852.8 L809.6 851.1 L810.7 850.6 L811.8 847.9 L812.9 849.3 L813.9 850.5 L815.0 848.9 L816.1 850.4 L817.1 849.0 L818.2 847.9 L819.3 848.3 L820.4 847.7 L821.4 850.0 L822.5 851.8 L823.6 850.7 L824.6 852.1 L825.7 853.5 L826.8 851.2 L827.9 851.1 L828.9 848.4 L830.0 848.8 L831.1 848.9 L832.1 846.7 L833.2 847.0 L834.3 847.9 L835.4 848.8 L836.4 847.1 L837.5 845.7 L838.6 844.1 L839.6 847.8 L840.7 844.6 L841.8 844.2 L842.9 845.6 L843.9 842.5 L845.0 842.3 L846.1 841.0 L847.1 839.3 L848.2 839.9 L849.3 839.7 L850.4 837.1 L851.4 836.5 L852.5 833.4 L853.6 836.1 L854.6 840.1 L855.7 834.9 L856.8 837.1 L857.9 837.9 L858.9 836.9 L860.0 836.1 L861.1 833.7 L862.1 835.2 L863.2 832.9 L864.3 833.6 L865.4 832.3 L866.4 830.7 L867.5 833.1 L868.6 833.6 L869.6 832.9 L870.7 827.5 L871.8 830.9 L872.9 829.6 L873.9 827.1 L875.0 824.3 L876.1 825.3 L877.1 831.8 L878.2 831.3 L879.3 834.1 L880.4 835.0 L881.4 833.6 L882.5 835.2 L883.6 833.9 L884.6 834.1 L885.7 831.1 L886.8 832.9 L887.9 834.8 L888.9 830.9 L890.0 832.4 L891.1 833.3 L892.1 835.9 L893.2 833.9 L894.3 836.0 L895.4 836.0 L896.4 835.4 L897.5 832.3 L898.6 837.4 L899.6 834.6 L900.7 835.8 L901.8 836.8 L902.9 838.2 L903.9 839.8 L905.0 839.1 L906.1 839.3 L907.1 838.6 L908.2 838.9 L909.3 838.9 L910.4 836.9 L911.4 839.1 L912.5 838.2 L913.6 839.9 L914.6 835.5 L915.7 836.1 L916.8 834.2 L917.9 838.5 L918.9 837.1 L920.0 839.4 L921.1 835.4 L922.1 838.2 L923.2 841.5 L924.3 839.3 L925.4 836.5 L926.4 832.9 L927.5 833.1 L928.6 826.7 L929.6 828.6 L930.7 828.0 L931.8 823.6 L932.9 826.4 L933.9 818.1 L935.0 817.9 L936.1 816.9 L937.1 811.4 L938.2 811.8 L939.3 814.6 L940.4 812.6 L941.4 809.3 L942.5 812.0 L943.6 815.7 L944.6 813.3 L945.7 812.5 L946.8 815.8 L947.9 816.8 L948.9 817.9 L950.0 815.8 L951.1 813.6 L952.1 813.2 L953.2 811.4 L954.3 811.4 L955.4 810.1 L956.4 810.4 L957.5 809.3 L958.6 804.8 L959.6 800.7 L960.7 797.2 L961.8 794.3 L962.9 798.2 L963.9 797.0 L965.0 796.4 L966.1 796.9 L967.1 794.4 L968.2 792.1 L969.3 791.9 L970.4 789.2 L971.4 790.0 L972.5 790.6 L973.6 787.9 L974.6 791.2 L975.7 794.3 L976.8 797.5 L977.9 795.6 L978.9 796.4 L980.0 794.3 L981.1 797.6 L982.1 793.2 L983.2 792.3 L984.3 791.1 L985.4 790.3 L986.4 796.8 L987.5 802.9 L988.6 802.0 L989.6 797.5 L990.7 798.7 L991.8 797.6 L992.9 798.6 L993.9 800.2 L995.0 796.3 L996.1 797.5 L997.1 798.8 L998.2 802.1 L999.3 796.4 L1000.4 795.0 L1001.4 797.8 L1002.5 797.5 L1003.6 798.3 L1004.6 797.8 L1005.7 800.7 L1006.8 801.5 L1007.9 799.6 L1008.9 803.9 L1010.0 803.0 L1011.1 802.0 L1012.1 804.6 L1013.2 804.4 L1014.3 804.9 L1015.4 803.9 L1016.4 804.2 L1017.5 805.3 L1018.6 803.9 L1019.6 803.3 L1020.7 803.1 L1021.8 802.9 L1022.9 801.1 L1023.9 800.1 L1025.0 801.8 L1026.1 802.8 L1027.1 801.8 L1028.2 799.6 L1029.3 796.4 L1030.4 796.5 L1031.4 794.3 L1032.5 791.9 L1033.6 789.1 L1034.6 785.7 L1035.7 784.5 L1036.8 783.1 L1037.9 785.9 L1038.9 787.9 L1040.0 786.7 L1041.1 785.9 L1042.1 785.7 L1043.2 782.3 L1044.3 785.9 L1045.4 783.6 L1046.4 784.7 L1047.5 787.0 L1048.6 787.9 L1049.6 787.5 L1050.7 790.8 L1051.8 785.7 L1052.9 782.7 L1053.9 784.1 L1055.0 782.5 L1056.1 776.8 L1057.1 772.9 L1058.2 766.4 L1059.3 760.0 L1060.4 764.4 L1061.4 768.6 L1062.5 768.3 L1063.6 764.3 L1064.6 767.2 L1065.7 772.9 L1066.8 776.7 L1067.9 781.4 L1068.9 796.8 L1070.0 802.9 L1071.1 800.3 L1072.1 798.6 L1073.2 794.9 L1074.3 790.0 L1075.4 783.9 L1076.4 779.3 L1077.5 777.2 L1078.6 777.1 L1079.6 773.1 L1080.7 770.7 L1081.8 766.5 L1082.9 766.4 L1083.9 762.6 L1085.0 756.8 L1086.1 759.7 L1087.1 760.0 L1088.2 761.7 L1089.3 758.9 L1090.4 760.0 L1091.4 764.3 L1092.5 764.4 L1093.6 758.9 L1094.6 762.1 L1095.7 761.0 L1096.8 762.0 L1097.9 758.9 L1099.0 753.3 L1100.2 749.7 L1101.4 748.6 L1102.5 751.0 L1103.6 752.9 L1104.6 754.1 L1105.7 759.3 L1106.8 760.7 L1107.9 754.1 L1108.9 755.0 L1110.0 752.7 L1111.1 757.1 L1112.1 755.0 L1113.2 754.4 L1114.3 757.1 L1115.4 756.9 L1116.4 752.4 L1117.5 750.7 L1118.6 744.9 L1119.6 746.7 L1120.7 745.4 L1121.8 745.6 L1122.9 745.3 L1123.9 742.1 L1125.0 739.8 L1126.1 740.8 L1127.1 740.0 L1128.2 740.2 L1129.3 741.4 L1130.4 738.9 L1131.7 736.9 L1133.1 731.4 L1134.2 726.1 L1135.3 722.9 L1136.4 717.7 L1137.4 712.1 L1138.5 707.9 L1139.6 705.7 L1140.9 702.8 L1142.1 700.4 L1143.2 702.3 L1144.3 707.9 L1145.6 710.8 L1146.9 712.1 L1148.2 711.2 L1149.6 713.2 L1151.0 711.3 L1152.4 707.9 L1153.7 703.1 L1155.0 703.6 L1156.1 710.2 L1157.1 712.1 L1158.4 712.7 L1159.7 711.1 L1160.8 705.5 L1161.9 710.0 L1162.9 716.3 L1164.0 717.5 L1165.4 720.8 L1166.8 726.1 L1168.2 722.5 L1169.6 723.9 L1170.9 722.1 L1172.1 722.9 L1173.2 722.4 L1174.3 724.8 L1175.4 721.8 L1176.7 721.3 L1178.1 718.6 L1179.4 721.4 L1180.7 721.8 L1181.8 729.1 L1182.9 728.2 L1183.9 723.9 L1185.3 725.1 L1186.7 721.8 L1187.8 718.4 L1188.9 712.1 L1190.4 705.7 L1191.9 721.8 L1193.2 726.4 L1194.6 727.1 L1196.0 732.9 L1197.4 732.5 L1198.7 738.3 L1200.0 744.3 L1201.3 741.1 L1202.6 733.6 L1204.0 734.8 L1205.4 730.4 L1206.4 732.4 L1207.5 727.2 L1208.6 728.2 L1209.6 725.8 L1210.7 727.1 L1211.8 727.1 L1213.2 728.2 L1214.6 725.0 L1215.6 719.1 L1216.7 717.5 L1217.7 713.9 L1218.6 707.9 L1219.5 712.0 L1220.4 720.7 L1221.4 718.5 L1222.5 728.2 L1223.6 731.2 L1224.6 729.7 L1225.7 731.4 L1226.8 727.2 L1227.9 732.8 L1228.9 730.4 L1230.0 730.8 L1231.1 729.0 L1232.1 732.5 L1233.2 733.6 L1234.3 731.6 L1235.4 734.6 L1236.4 736.7 L1237.5 730.3 L1238.6 737.9 L1239.6 735.7 L1240.7 738.0 L1241.8 738.9 L1242.9 746.0 L1243.9 744.3 L1245.3 747.9 L1246.7 752.9 L1248.0 753.7 L1249.3 757.1 L1250.4 754.7 L1251.4 755.7 L1252.5 755.0 L1253.6 754.9 L1254.6 754.2 L1255.7 753.9 L1256.8 752.8 L1257.9 756.6 L1258.9 758.2 L1260.4 765.7 L1261.3 758.8 L1262.1 756.1 L1263.2 749.0 L1264.3 754.4 L1265.4 751.8 L1266.4 751.2 L1267.5 746.3 L1268.6 746.4 L1269.6 744.9 L1270.7 743.2 L1271.8 743.2 L1272.9 746.2 L1273.9 746.4 L1275.0 741.0 L1276.1 745.4 L1277.1 743.2 L1278.2 737.7 L1279.3 736.9 L1280.4 737.9 L1281.4 733.7 L1282.5 739.1 L1283.6 732.5 L1284.6 731.0 L1285.7 730.2 L1286.8 726.1 L1287.9 725.5 L1288.9 725.8 L1290.0 721.8 L1291.1 722.2 L1292.1 720.7 L1293.2 722.2 L1294.3 726.1 L1295.6 729.7 L1296.9 726.1 L1297.9 733.5 L1299.0 731.4 L1300.4 735.4 L1301.8 742.1 L1303.2 741.7 L1304.6 745.4 L1305.9 749.5 L1307.1 748.6 L1308.4 741.1 L1309.7 741.1 L1311.1 740.5 L1312.5 737.9 L1313.6 735.7 L1314.6 736.8 L1315.7 735.4 L1316.8 741.1 L1318.2 740.1 L1319.6 737.9 L1320.9 736.6 L1322.1 740.0 L1323.4 748.0 L1324.7 750.7 L1325.6 751.1 L1326.4 756.1 L1327.5 750.5 L1328.6 746.4 L1329.6 746.5 L1330.7 744.6 L1331.8 742.1 L1332.9 744.4 L1333.9 744.0 L1335.0 741.1 L1336.1 742.1 L1337.1 739.6 L1338.2 738.9 L1339.6 739.2 L1341.0 738.9 L1342.3 740.7 L1343.6 742.1 L1344.6 743.7 L1345.7 746.0 L1346.8 746.4 L1348.2 745.0 L1349.6 749.6 L1350.9 751.0 L1352.1 751.8 L1353.2 751.3 L1354.3 750.5 L1355.4 749.6 L1356.7 744.4 L1358.1 744.3 L1359.6 746.4 L1361.1 743.2 L1362.5 741.2 L1363.9 742.1 L1365.0 739.2 L1366.1 741.8 L1367.1 740.0 L1368.4 736.3 L1369.7 736.8 L1370.8 738.2 L1371.9 731.4 L1373.2 730.5 L1374.6 728.2 L1375.7 734.3 L1376.8 733.6 L1377.9 736.0 L1378.9 738.9 L1380.3 738.8 L1381.7 743.2 L1383.0 744.1 L1384.3 744.3 L1385.4 743.1 L1386.4 744.8 L1387.5 746.4 L1388.9 747.4 L1390.3 748.6 L1391.6 746.0 L1392.9 744.3 L1393.9 743.1 L1395.0 741.6 L1396.1 742.1 L1397.1 742.2 L1398.2 744.5 L1399.3 741.1 L1400.4 742.2 L1401.4 742.0 L1402.5 740.0 L1403.6 740.3 L1404.6 740.3 L1405.7 737.9 L1406.8 738.9 L1407.9 736.7 L1408.9 737.4 L1410.3 740.6 L1411.7 741.1 L1413.0 743.7 L1414.3 738.9 L1415.4 740.9 L1416.4 731.0 L1417.5 736.8 L1418.9 735.5 L1420.3 731.4 L1421.6 726.7 L1422.9 722.9 L1424.1 721.5 L1425.4 716.4 L1426.5 713.7 L1427.6 714.3 L1428.6 714.0 L1429.7 708.9 L1430.8 701.7 L1431.9 701.4 L1432.9 706.8 L1434.0 710.0 L1435.1 714.7 L1436.1 721.8 L1437.2 720.8 L1438.3 718.6 L1439.7 717.2 L1441.1 717.5 L1442.5 720.7 L1443.9 719.6 L1445.1 719.8 L1446.4 717.5 L1447.7 718.0 L1449.0 710.0 L1450.4 713.8 L1451.8 711.1 L1452.9 717.4 L1453.9 714.3 L1455.3 719.9 L1456.7 719.6 L1457.8 724.0 L1458.9 725.0 L1459.9 727.0 L1461.0 723.9 L1462.1 727.7 L1463.1 730.4 L1464.4 731.5 L1465.7 734.6 L1466.8 735.3 L1467.9 741.1 L1469.1 734.6 L1470.4 734.6 L1471.8 731.6 L1473.2 734.6 L1474.6 732.7 L1476.0 733.6 L1477.3 737.0 L1478.6 734.6 L1479.6 732.2 L1480.7 738.3 L1481.8 735.7 L1482.9 732.6 L1483.9 739.3 L1485.0 736.8 L1486.1 737.1 L1487.1 733.8 L1488.2 737.9 L1489.6 741.1 L1491.0 742.1 L1492.3 748.5 L1493.6 750.7 L1494.9 754.4 L1496.1 758.2 L1497.5 759.6 L1498.9 755.0 L1500.0 749.7 L1501.1 750.7 L1502.5 749.6 L1503.9 747.5 L1505.1 745.5 L1506.4 745.4 L1507.5 742.9 L1508.6 743.2 L1509.9 739.4 L1511.1 745.4 L1512.5 747.4 L1513.9 749.6 L1515.3 750.7 L1516.7 755.0 L1518.0 758.6 L1519.3 757.1 L1520.6 760.6 L1521.9 759.3 L1523.2 758.9 L1524.6 757.1 L1526.0 760.8 L1527.4 761.4 L1528.7 765.1 L1530.0 767.9 L1531.3 767.0 L1532.6 764.6 L1534.0 765.3 L1535.4 761.4 L1536.4 760.4 L1537.5 755.0 L1538.6 765.1 L1539.6 763.6 L1540.9 767.4 L1542.1 769.3 L1543.2 770.8 L1544.3 771.4 L1545.4 772.8 L1546.4 767.1 L1547.5 769.0 L1548.6 774.6 L1549.6 777.7 L1550.7 777.9 L1551.6 773.9 L1552.4 767.1 L1553.9 754.3 L1555.4 747.9 L1556.3 744.8 L1557.1 743.6 L1558.2 743.2 L1559.3 747.9 L1560.4 751.5 L1561.4 750.0 L1562.7 743.3 L1564.0 743.6 L1565.4 747.1 L1566.8 745.7 L1568.2 743.1 L1569.6 743.6 L1570.9 744.0 L1572.1 744.6 L1573.4 743.6 L1574.7 741.4 L1576.1 741.0 L1577.5 739.3 L1578.9 737.8 L1580.3 735.0 L1581.6 734.4 L1582.9 728.6 L1584.1 725.7 L1585.4 724.3 L1586.8 720.4 L1588.2 720.0 L1589.6 717.2 L1591.0 716.8 L1592.3 713.1 L1593.6 715.7 L1594.9 714.3 L1596.1 720.0 L1597.5 723.4 L1598.9 726.4 L1600.3 728.8 L1601.7 730.7 L1603.0 733.8 L1604.3 732.9 L1605.6 734.0 L1606.9 735.0 L1608.2 734.5 L1609.6 737.1 L1611.0 735.6 L1612.4 739.3 L1613.5 739.6 L1614.6 737.1 L1615.6 737.9 L1616.7 728.6 L1617.8 723.2 L1618.9 720.0 L1619.9 711.9 L1621.0 711.4 L1622.1 703.5 L1623.1 705.0 L1624.4 701.1 L1625.7 702.9 L1627.0 699.2 L1628.3 701.8 L1629.4 704.1 L1630.4 705.0 L1631.5 700.1 L1632.6 698.6 L1634.0 703.1 L1635.4 702.9 L1636.7 702.9 L1638.1 705.0 L1639.4 707.0 L1640.7 702.9 L1642.0 700.5 L1643.3 699.6 L1644.7 703.1 L1646.1 702.9 L1647.5 704.2 L1648.9 707.1 L1650.1 707.7 L1651.4 710.4 L1652.7 710.2 L1654.0 709.3 L1655.4 712.3 L1656.8 711.4 L1658.2 708.8 L1659.6 713.6 L1660.9 714.1 L1662.1 714.6 L1663.4 716.5 L1664.7 715.7 L1666.1 720.5 L1667.5 717.9 L1668.9 716.7 L1670.3 720.0 L1671.6 724.8 L1672.9 718.9 L1674.1 718.1 L1675.4 716.8 L1676.8 717.1 L1678.2 713.6 L1679.6 711.8 L1681.0 710.4 L1682.3 714.3 L1683.6 712.5 L1684.9 712.2 L1686.1 715.7 L1687.5 713.4 L1688.9 717.9 L1690.3 719.7 L1691.7 720.0 L1693.0 714.3 L1694.3 722.1 L1695.6 718.6 L1696.9 722.1 L1698.2 720.4 L1699.6 718.9 L1701.0 716.1 L1702.4 717.9 L1703.7 720.9 L1705.0 718.9 L1706.3 722.8 L1707.6 720.0 L1709.0 717.2 L1710.4 717.9 L1711.7 719.3 L1713.1 720.0 L1714.4 730.2 L1715.7 728.6 L1717.0 731.3 L1718.3 733.9 L1719.4 732.8 L1720.4 735.0 L1721.5 731.1 L1722.6 728.6 L1723.6 720.3 L1724.7 720.0 L1725.8 712.8 L1726.9 711.4 L1727.9 710.4 L1729.0 707.1 L1730.4 706.3 L1731.8 708.2 L1733.2 701.6 L1734.6 707.1 L1735.9 707.5 L1737.1 711.4 L1738.2 709.5 L1739.3 712.5 L1740.4 711.6 L1741.4 707.1 L1742.7 707.3 L1744.0 702.9 L1745.1 706.2 L1746.1 700.7 L1747.2 696.4 L1748.3 696.4 L1749.4 689.2 L1750.4 692.1 L1751.5 696.8 L1752.6 696.4 L1754.0 695.3 L1755.4 698.6 L1756.4 700.2 L1757.5 694.3 L1758.6 689.8 L1759.6 692.1 L1760.7 686.6 L1761.8 688.9 L1763.2 687.5 L1764.6 692.1 L1765.9 694.4 L1767.1 696.4 L1768.4 703.2 L1769.7 697.5 L1771.1 700.5 L1772.5 699.6 L1773.9 700.7 L1775.3 698.6 L1776.4 695.8 L1777.4 692.1 L1778.5 693.4 L1779.6 697.5 L1780.9 703.0 L1782.1 699.6 L1783.4 698.5 L1784.7 707.1 L1785.8 703.3 L1786.9 703.9 L1788.2 702.1 L1789.6 700.7 L1791.0 701.5 L1792.4 697.5 L1793.5 693.0 L1794.6 685.7 L1795.6 681.2 L1796.7 672.9 L1798.0 670.5 L1799.3 670.7 L1800.6 671.8 L1801.9 669.6 L1802.9 664.5 L1804.0 662.1 L1805.1 660.2 L1806.1 657.9 L1807.2 657.7 L1808.3 651.4 L1809.4 651.2 L1810.4 642.9 L1811.5 639.5 L1812.6 635.4 L1813.6 628.9 L1814.7 630.0 L1815.8 628.7 L1816.9 625.7 L1817.7 623.3 L1818.6 621.4 L1819.4 631.3 L1820.3 636.4 L1821.4 639.7 L1822.4 642.9 L1823.5 645.3 L1824.6 649.3 L1825.6 640.2 L1826.7 641.8 L1827.8 632.8 L1828.9 636.4 L1829.9 635.7 L1831.0 632.1 L1832.1 633.8 L1833.1 627.9 L1834.2 625.9 L1835.3 624.6 L1836.4 625.1 L1837.4 632.1 L1838.5 634.8 L1839.6 634.3 L1840.6 634.3 L1841.7 627.9 L1842.8 628.9 L1843.9 632.1 L1844.9 635.5 L1846.0 638.6 L1847.3 642.2 L1848.6 639.6 L1849.9 644.3 L1851.1 640.7 L1852.5 639.6 L1853.9 638.6 L1855.0 634.7 L1856.1 634.3 L1857.1 628.9 L1858.2 630.0 L1859.3 628.3 L1860.4 623.6 L1861.4 619.8 L1862.5 615.0 L1863.6 615.9 L1864.6 619.3 L1865.7 615.7 L1866.8 617.1 L1867.9 615.6 L1868.9 618.2 L1870.0 615.6 L1871.1 612.9 L1872.1 615.7 L1873.2 616.1 L1874.3 613.9 L1875.4 610.7 L1876.4 606.3 L1877.5 606.4 L1878.9 609.7 L1880.3 603.2 L1881.4 609.5 L1882.5 600.0 L1883.9 601.4 L1885.3 606.4 L1886.6 607.6 L1887.9 604.3 L1888.9 597.9 L1890.0 598.9 L1890.9 597.8 L1891.7 589.3 L1892.8 589.8 L1893.9 587.1 L1894.9 588.5 L1896.0 578.6 L1897.3 572.0 L1898.6 574.3 L1899.6 581.9 L1900.7 578.6 L1902.0 585.7 L1903.3 580.7 L1904.7 580.7 L1906.1 576.4 L1907.1 571.3 L1908.2 570.0 L1909.3 572.6 L1910.4 563.6 L1911.4 558.4 L1912.5 559.3 L1913.6 559.2 L1914.6 553.9 L1916.1 552.9 L1917.0 560.5 L1917.9 565.7 L1918.7 569.6 L1919.6 574.3 L1921.1 589.3 L1922.6 595.7 L1923.4 590.6 L1924.3 587.1 L1925.1 581.9 L1926.0 574.3 L1927.1 563.6 L1928.6 576.4 L1929.4 582.8 L1930.3 585.0 L1931.8 578.6 L1933.3 576.4 L1934.1 572.8 L1935.0 570.0 L1935.9 567.1 L1936.7 557.1 L1938.2 574.3 L1939.7 582.9 L1940.6 584.1 L1941.4 585.0 L1942.5 577.8 L1943.6 586.1 L1944.6 589.5 L1945.7 589.3 L1946.8 587.3 L1947.9 582.9 L1948.9 577.8 L1950.0 578.6 L1950.9 571.7 L1951.7 570.0 L1953.2 565.7 L1954.3 564.4 L1955.4 561.4 L1956.4 564.5 L1957.5 559.3 L1958.6 563.2 L1959.6 550.7 L1961.1 542.1 L1962.0 536.3 L1962.9 535.7 L1963.7 531.3 L1964.6 529.3 L1966.1 526.1 L1967.6 521.8 L1968.4 531.9 L1969.3 529.3 L1970.4 537.7 L1971.4 525.0 L1972.5 522.5 L1973.6 531.4 L1974.6 538.8 L1975.7 544.3 L1976.6 546.2 L1977.4 537.9 L1978.9 531.4 L1980.4 527.1 L1981.3 521.2 L1982.1 518.6 L1983.2 519.2 L1984.3 510.0 L1985.4 506.0 L1986.4 505.7 L1987.5 498.5 L1988.6 499.3 L1989.6 498.4 L1990.7 492.9 L1991.8 483.0 L1992.9 490.7 L1993.9 484.8 L1995.0 475.7 L1995.9 467.3 L1996.7 471.4 L1998.2 450.0 L1999.7 428.6 L2000.6 426.9 L2001.4 424.3 L2002.3 426.1 L2003.1 426.4 L2004.6 450.0 L2006.1 458.6 L2007.0 456.4 L2007.9 454.3 L2008.9 443.6 L2010.4 445.7 L2011.7 467.1 L2013.2 482.1 L2014.7 471.4 L2015.6 465.9 L2016.4 458.6 L2017.3 451.5 L2018.1 450.0 L2019.2 452.5 L2020.3 447.9 L2021.4 445.9 L2022.4 445.7 L2023.5 440.7 L2024.6 441.4 L2026.1 437.1 L2027.1 422.1 L2028.0 422.0 L2028.9 432.9 L2030.4 445.7 L2031.4 444.9 L2032.5 450.0 L2034.0 456.4 L2034.9 456.7 L2035.7 467.1 L2036.6 456.5 L2037.4 454.3 L2038.5 452.4 L2039.6 453.2 L2040.6 457.3 L2041.7 450.0 L2042.8 448.6 L2043.9 447.9 L2044.9 448.5 L2046.0 441.4 L2047.5 428.6 L2049.0 439.3 L2049.9 439.2 L2050.7 450.0 L2051.6 455.3 L2052.4 458.6 L2053.9 445.7 L2055.4 428.6 L2056.7 416.8 L2058.2 432.9 L2059.3 439.0 L2060.4 441.4 L2061.4 446.7 L2062.5 450.0 L2064.0 441.4 L2064.9 445.2 L2065.7 437.1 L2066.6 427.7 L2067.4 420.0 L2068.9 407.1 L2070.4 394.3 L2071.3 386.2 L2072.1 387.9 L2073.0 386.9 L2073.9 385.7 L2075.4 383.6 L2076.9 392.1 L2078.1 375.0 L2079.6 372.9 L2080.7 364.3 L2081.8 351.4 L2083.3 353.6 L2084.6 338.6 L2085.4 325.7 L2086.7 324.6" fill="none" stroke="#f6a654" stroke-width="4.4" stroke-linejoin="miter" stroke-miterlimit="8"/>
<path d="M164.3 439.6 L165.9 440.6 L167.5 441.8 L169.1 437.1 L170.7 432.1 L172.0 440.4 L173.3 446.1 L175.0 452.5 L176.6 459.9 L178.2 467.5 L179.5 468.1 L180.8 468.6 L182.5 484.6 L183.6 481.7 L184.6 478.2 L186.1 481.4 L186.6 550.0 L186.8 625.1 L186.8 672.9 L187.2 702.9 L188.3 707.8 L189.4 714.6 L191.1 711.4 L192.7 711.5 L194.3 711.4 L195.4 712.4 L196.4 712.5 L197.5 706.9 L198.6 699.6 L200.2 696.3 L201.8 695.4 L203.4 690.5 L205.0 686.8 L205.6 678.2 L206.9 680.2 L208.2 684.6 L209.8 686.1 L211.4 685.7 L212.5 686.3 L213.6 685.7 L214.9 685.9 L216.1 688.9 L217.9 700.7 L219.5 709.7 L221.1 715.7 L222.8 718.9 L224.4 727.8 L226.0 733.9 L227.5 730.7 L229.0 735.0 L230.4 731.2 L231.8 726.4 L233.2 719.3 L234.6 711.4 L236.1 706.1 L237.1 705.6 L238.2 707.1 L239.6 704.6 L241.0 705.0 L242.1 704.0 L243.1 702.9 L244.6 707.1 L245.7 705.8 L246.8 707.1 L247.9 705.7 L248.9 706.1 L250.0 711.7 L251.1 718.9 L252.6 705.0 L254.0 702.0 L255.4 701.8 L256.4 700.6 L257.5 699.6 L258.9 700.0 L260.3 700.7 L261.4 692.6 L262.4 682.5 L263.5 676.7 L264.6 670.7 L265.6 667.4 L266.7 663.2 L268.0 660.0 L269.3 656.8 L270.8 657.9 L271.9 655.3 L273.6 664.3 L274.6 669.1 L275.7 672.9 L276.8 673.3 L277.9 673.9 L278.9 677.5 L280.0 682.5 L281.1 688.8 L282.1 692.1 L283.9 695.4 L285.4 691.1 L286.4 705.0 L287.5 706.5 L288.6 705.0 L289.9 705.5 L291.1 703.9 L292.2 706.2 L293.3 707.1 L294.6 696.4 L296.1 700.7 L297.1 707.1 L298.2 709.3 L299.3 712.5 L300.4 714.4 L301.4 717.9 L303.1 716.8 L304.0 705.0 L305.7 713.6 L307.4 702.9 L309.4 692.1 L311.1 684.6 L312.1 681.9 L313.2 680.4 L314.7 673.9 L316.4 657.9 L317.5 642.6 L318.6 630.0 L318.6 625.0 L320.2 608.1 L321.8 589.6 L322.9 588.8 L323.9 588.6 L325.0 575.7 L326.1 560.7 L327.7 540.0 L329.3 520.0 L330.7 502.1 L332.1 481.4 L333.4 480.3 L334.6 477.1 L335.7 470.8 L336.8 467.5 L337.9 467.7 L338.9 469.6 L340.0 446.7 L341.1 450.8 L342.1 452.5 L343.9 449.3 L345.1 450.3 L346.4 451.4 L347.7 451.8 L349.0 449.3 L350.3 462.1 L352.2 467.5 L353.9 463.2 L355.0 477.4 L356.1 492.1 L357.7 494.6 L359.3 499.6 L359.9 505.0 L361.2 500.6 L362.5 495.4 L363.6 496.7 L364.6 496.4 L365.7 508.6 L366.8 522.1 L367.9 516.6 L368.9 513.6 L370.3 508.8 L371.7 505.0 L373.2 543.6 L374.3 550.3 L375.4 554.3 L376.4 566.3 L377.5 576.8 L378.6 573.0 L379.6 571.4 L380.7 569.6 L381.8 569.3 L383.5 558.1 L385.0 569.3 L386.3 563.3 L387.6 559.6 L389.0 544.9 L390.4 532.9 L391.4 523.0 L392.5 511.4 L393.6 497.1 L394.6 484.6 L396.4 479.3 L397.9 484.6 L398.9 481.6 L400.0 478.2 L401.1 476.4 L402.1 475.0 L403.2 477.8 L404.3 482.5 L405.4 479.4 L406.4 475.0 L407.5 481.4 L408.6 490.0 L410.3 481.4 L411.6 493.1 L412.9 503.9 L413.9 504.4 L415.0 507.1 L416.5 518.9 L417.6 517.6 L418.6 516.8 L420.0 519.1 L421.4 523.2 L423.1 540.4 L424.4 532.7 L425.7 526.4 L426.8 539.6 L427.9 550.0 L429.1 553.1 L430.4 554.3 L431.7 566.1 L433.0 569.2 L434.3 573.6 L435.4 583.3 L436.4 590.7 L437.5 597.3 L438.6 605.7 L438.6 606.4 L439.2 621.4 L440.3 635.4 L441.4 628.1 L442.4 621.4 L443.7 618.2 L445.0 612.9 L446.7 616.1 L448.2 608.6 L449.3 619.3 L450.4 606.4 L451.4 623.6 L452.7 629.9 L454.0 635.4 L455.7 650.4 L456.8 641.7 L457.9 635.4 L458.9 650.2 L460.0 662.1 L461.1 672.9 L462.1 680.6 L463.2 690.0 L464.3 700.0 L465.4 711.4 L466.4 720.0 L467.5 714.6 L469.0 726.4 L470.7 739.3 L471.8 737.1 L472.9 742.2 L473.9 745.7 L475.4 756.4 L477.1 777.9 L478.9 797.1 L480.4 802.5 L481.4 803.6 L482.5 805.7 L483.6 808.3 L484.6 812.1 L485.7 814.1 L486.8 818.6 L487.9 820.0 L488.9 823.9 L490.0 822.6 L491.1 820.7 L492.6 805.7 L493.9 797.1 L494.9 799.6 L496.0 803.6 L497.3 803.3 L498.6 802.5 L499.6 798.9 L500.7 796.1 L501.8 792.2 L502.9 788.6 L503.9 754.3 L505.0 742.8 L506.1 728.6 L507.1 720.0 L508.2 711.4 L509.3 700.9 L510.4 690.0 L511.9 672.9 L513.1 657.9 L514.6 646.1 L515.7 662.1 L517.4 652.5 L518.9 660.0 L520.0 649.3 L521.1 636.4 L522.1 630.0 L523.6 603.6 L525.0 600.5 L526.4 599.3 L528.1 603.6 L529.4 597.2 L530.7 592.9 L531.8 594.6 L532.9 593.9 L534.5 586.8 L536.1 577.9 L537.7 585.1 L539.3 593.9 L540.4 591.4 L541.4 590.7 L542.9 595.0 L544.3 599.2 L545.7 601.4 L546.8 605.9 L547.9 612.1 L548.9 625.1 L550.4 636.4 L552.1 641.8 L553.9 646.1 L555.4 643.9 L556.9 649.3 L558.2 651.2 L559.6 650.4 L560.7 636.4 L562.4 621.4 L563.5 611.8 L565.0 617.1 L566.1 630.0 L567.1 633.3 L568.2 634.3 L569.3 637.3 L570.4 639.6 L571.4 636.2 L572.5 633.2 L574.0 632.1 L575.7 642.9 L576.8 647.0 L577.9 653.6 L578.9 656.5 L580.0 662.1 L581.7 672.9 L583.2 683.6 L584.3 688.2 L585.4 690.0 L586.4 692.4 L587.5 696.4 L588.6 697.6 L589.6 697.5 L591.4 700.7 L592.6 697.3 L593.9 695.4 L595.5 693.6 L597.1 690.0 L598.2 688.7 L599.3 686.8 L600.4 685.6 L601.4 685.7 L603.1 679.3 L604.6 670.7 L605.7 664.3 L606.8 666.5 L607.9 670.7 L608.9 666.6 L610.0 661.1 L611.7 651.4 L612.8 651.2 L613.9 653.6 L615.4 648.2 L616.4 648.5 L617.5 650.4 L619.1 646.8 L620.7 642.9 L621.8 640.2 L622.9 635.4 L623.9 633.0 L625.0 630.0 L626.7 623.6 L628.5 615.1 L630.4 607.9 L631.4 603.8 L632.5 597.1 L633.6 598.4 L634.6 601.4 L635.7 595.7 L636.8 592.9 L636.8 592.8 L638.2 599.6 L639.5 598.9 L640.8 599.6 L642.5 605.0 L643.6 607.0 L644.6 609.3 L646.0 608.0 L647.4 609.3 L648.5 612.6 L649.6 617.9 L651.1 626.4 L652.1 637.1 L653.2 630.7 L654.7 640.4 L656.4 642.5 L657.5 638.2 L658.6 642.6 L659.6 647.9 L660.7 651.3 L661.8 654.3 L662.9 654.3 L663.9 656.4 L665.4 660.7 L666.8 656.5 L668.2 653.2 L669.7 652.1 L671.4 659.6 L673.1 658.6 L674.2 660.8 L675.3 660.7 L676.1 645.7 L677.9 643.6 L679.6 641.0 L680.6 643.2 L681.7 642.5 L682.8 646.1 L683.9 646.6 L684.9 646.1 L686.0 656.4 L687.1 660.2 L688.1 662.9 L689.6 656.4 L690.7 655.4 L691.8 653.9 L692.9 653.0 L693.9 654.3 L695.6 653.2 L696.7 659.0 L698.0 656.9 L699.3 657.5 L701.0 656.4 L702.9 658.1 L704.6 645.7 L706.4 637.1 L708.3 633.9 L710.0 639.3 L711.7 639.3 L713.6 632.9 L715.4 622.1 L716.4 615.3 L717.5 611.4 L719.2 608.2 L720.7 607.1 L721.8 615.7 L722.9 609.3 L723.9 612.7 L725.0 613.6 L726.7 615.7 L727.8 615.8 L728.9 614.6 L730.4 605.0 L731.9 597.5 L733.6 597.5 L735.3 600.7 L736.8 606.1 L738.3 611.4 L740.0 610.4 L741.7 608.2 L742.8 611.4 L744.3 609.3 L745.4 615.7 L746.9 622.1 L748.6 624.3 L750.1 630.7 L751.8 639.3 L753.3 647.9 L755.0 650.0 L756.7 656.4 L758.2 665.0 L758.3 665.1 L759.3 672.8 L760.4 680.7 L761.9 693.6 L763.6 704.3 L765.3 710.7 L766.8 719.3 L767.9 722.3 L768.9 722.5 L769.6 730.0 L770.6 724.3 L771.7 721.4 L773.2 725.7 L774.7 732.1 L776.4 739.6 L778.1 741.8 L779.6 748.2 L781.1 751.4 L782.9 749.3 L783.9 751.8 L785.0 753.6 L786.7 757.4 L788.2 752.5 L789.3 753.5 L790.4 754.6 L792.1 751.4 L793.6 753.6 L795.3 750.4 L796.8 751.4 L798.3 740.7 L799.6 747.1 L801.1 742.9 L802.6 739.6 L804.3 732.1 L805.6 745.0 L806.9 735.4 L808.6 725.7 L810.3 715.0 L811.8 704.3 L813.5 700.0 L815.4 697.9 L817.1 689.3 L818.2 685.7 L819.3 680.7 L821.0 672.8 L821.9 666.8 L821.9 665.0 L823.3 663.4 L824.6 662.9 L825.7 662.7 L826.8 659.6 L827.9 657.3 L828.9 657.5 L830.0 658.2 L831.1 658.6 L832.1 658.2 L833.2 656.4 L834.3 657.6 L835.4 656.4 L836.4 653.4 L837.5 648.9 L839.0 641.4 L840.7 630.7 L842.4 628.6 L843.9 620.0 L845.0 614.2 L846.1 607.1 L847.6 592.1 L849.3 583.6 L850.4 577.1 L851.0 564.3 L852.5 577.1 L853.6 570.7 L855.3 575.0 L856.4 579.3 L857.4 583.6 L858.3 571.8 L860.0 568.6 L861.7 570.7 L863.2 573.9 L863.9 550.4 L864.9 568.6 L866.4 566.4 L867.5 567.5 L868.1 582.5 L869.6 580.4 L871.4 576.1 L872.9 577.1 L874.6 581.4 L876.1 580.4 L877.1 584.6 L878.6 582.5 L879.7 598.6 L881.4 600.7 L882.5 608.2 L884.0 610.4 L885.7 613.6 L887.4 617.9 L888.9 620.0 L890.0 614.6 L891.7 632.9 L893.2 640.4 L894.9 626.4 L896.4 632.9 L897.5 641.4 L899.2 647.9 L900.7 656.4 L902.4 665.0 L902.5 665.1 L903.3 672.8 L903.9 687.1 L905.0 692.3 L906.1 695.7 L907.6 708.6 L908.2 721.4 L909.3 730.0 L911.0 722.5 L912.5 725.7 L914.0 721.4 L915.7 723.6 L917.4 719.3 L918.9 722.5 L920.6 718.2 L922.6 717.1 L924.3 713.9 L925.4 704.3 L926.0 672.8 L926.4 665.1 L926.5 665.0 L927.5 646.8 L928.6 648.0 L929.6 646.8 L931.1 640.4 L932.9 641.4 L933.9 631.3 L935.0 622.1 L936.1 612.5 L937.1 612.3 L938.2 611.0 L939.7 617.9 L941.4 624.3 L943.1 622.1 L944.6 617.9 L946.4 614.6 L947.9 598.6 L948.9 581.4 L950.0 577.3 L951.1 570.7 L952.1 566.5 L953.2 560.0 L954.3 550.1 L955.4 540.7 L956.4 528.7 L957.5 515.0 L959.0 498.9 L960.7 504.3 L962.2 495.7 L963.9 494.6 L965.0 489.8 L966.1 482.9 L967.1 476.1 L968.2 468.9 L969.3 465.7 L970.8 468.9 L972.5 500.0 L973.6 498.9 L975.3 510.7 L976.8 519.3 L977.9 521.8 L978.9 523.6 L980.0 546.1 L981.1 535.5 L982.1 525.7 L983.9 516.1 L985.4 515.0 L986.4 509.4 L987.5 503.2 L989.0 502.1 L990.7 496.1 L992.4 502.1 L993.9 523.6 L995.4 517.1 L996.7 525.7 L998.2 522.5 L999.7 532.1 L1001.4 540.7 L1002.5 542.9 L1003.6 555.7 L1005.1 566.4 L1006.4 579.3 L1007.9 592.1 L1009.6 600.7 L1011.1 605.0 L1012.8 615.7 L1014.3 625.4 L1015.4 630.5 L1016.4 635.0 L1017.9 645.7 L1019.0 640.4 L1020.7 637.1 L1022.4 625.4 L1023.9 631.8 L1025.0 643.6 L1026.5 654.3 L1028.2 662.9 L1029.3 662.7 L1030.4 665.0 L1030.4 665.1 L1031.9 672.8 L1033.6 673.2 L1035.3 674.3 L1036.8 688.2 L1038.3 691.4 L1039.4 693.6 L1040.0 682.9 L1041.1 672.8 L1042.1 665.1 L1042.2 665.0 L1043.2 660.7 L1044.7 660.7 L1046.4 652.1 L1048.1 645.7 L1049.6 637.1 L1051.1 628.6 L1052.9 611.4 L1054.6 603.9 L1056.1 603.9 L1057.8 592.1 L1059.3 585.7 L1061.0 579.3 L1062.1 577.6 L1063.1 575.0 L1064.0 553.6 L1065.3 530.0 L1066.8 512.9 L1067.9 508.6 L1068.9 521.4 L1070.6 530.0 L1072.1 560.0 L1073.9 525.7 L1075.4 504.3 L1076.4 498.8 L1077.5 490.4 L1079.0 477.5 L1080.7 472.1 L1081.8 450.7 L1081.8 438.6 L1083.2 417.1 L1084.7 401.1 L1086.4 411.8 L1088.1 404.3 L1089.4 401.7 L1090.7 396.8 L1091.8 404.3 L1092.9 393.6 L1094.6 390.4 L1096.1 378.6 L1097.6 377.5 L1099.3 359.3 L1100.4 347.5 L1101.4 353.9 L1103.1 346.4 L1104.6 356.1 L1106.1 351.8 L1107.4 359.3 L1108.9 358.2 L1110.0 385.0 L1111.5 402.1 L1112.6 412.9 L1113.9 391.4 L1115.4 380.7 L1116.4 348.6 L1117.5 331.4 L1118.6 340.0 L1119.6 357.1 L1120.7 356.1 L1121.8 366.8 L1122.9 373.2 L1123.9 380.7 L1125.4 383.9 L1127.1 397.9 L1128.9 406.4 L1130.4 415.0 L1131.4 410.7 L1132.9 417.1 L1134.6 402.1 L1136.1 400.0 L1137.4 396.8 L1138.9 403.2 L1140.6 400.0 L1142.1 406.4 L1143.6 430.0 L1144.3 463.2 L1146.0 469.6 L1147.1 474.6 L1148.1 478.2 L1149.6 475.0 L1151.4 479.3 L1152.9 481.4 L1153.9 486.8 L1155.4 467.5 L1157.1 468.6 L1158.9 472.9 L1160.4 477.1 L1161.9 480.4 L1163.1 494.3 L1164.6 487.9 L1165.7 500.7 L1167.4 509.3 L1168.9 499.6 L1170.0 508.2 L1171.1 517.9 L1172.6 515.7 L1173.9 526.4 L1175.4 535.0 L1175.4 535.0 L1176.5 537.9 L1177.5 541.4 L1178.6 562.9 L1180.3 582.1 L1181.8 595.0 L1182.9 602.5 L1184.4 603.6 L1185.4 620.7 L1186.1 632.5 L1187.8 629.3 L1188.9 614.3 L1189.7 611.1 L1191.0 622.9 L1192.5 635.7 L1194.0 646.4 L1195.7 657.1 L1196.8 665.7 L1197.4 672.8 L1197.5 692.9 L1198.9 707.9 L1200.0 715.5 L1201.1 721.8 L1202.1 725.8 L1203.2 729.3 L1204.3 733.4 L1205.4 737.9 L1206.4 745.3 L1207.5 750.7 L1208.6 751.6 L1209.6 755.0 L1210.7 758.4 L1211.8 760.4 L1212.9 763.8 L1213.9 770.0 L1215.4 772.1 L1217.1 762.5 L1218.2 761.7 L1219.3 760.4 L1220.4 760.8 L1221.4 761.4 L1223.1 755.0 L1224.2 752.0 L1225.3 750.7 L1226.8 755.0 L1228.3 760.4 L1230.0 758.2 L1231.7 763.6 L1233.2 762.5 L1234.7 766.8 L1236.4 761.4 L1238.1 757.1 L1239.6 746.4 L1241.1 741.1 L1242.4 735.7 L1243.9 744.3 L1245.4 752.9 L1246.7 765.7 L1248.2 778.6 L1249.9 789.3 L1251.4 785.0 L1253.1 788.2 L1254.6 786.1 L1256.1 791.4 L1257.9 800.0 L1259.6 808.6 L1261.1 817.1 L1262.6 823.6 L1264.3 822.5 L1266.0 820.4 L1267.5 836.4 L1269.0 831.1 L1270.7 830.0 L1272.4 831.1 L1273.9 823.6 L1275.0 822.6 L1276.1 820.4 L1277.1 818.2 L1278.2 816.1 L1279.7 808.6 L1281.4 795.7 L1282.9 785.0 L1284.6 770.0 L1286.1 752.9 L1287.4 733.6 L1288.9 718.6 L1290.4 701.4 L1291.7 686.4 L1292.8 672.8 L1293.9 657.1 L1294.9 651.8 L1296.4 659.3 L1298.1 655.0 L1299.6 654.6 L1301.1 648.6 L1302.9 652.9 L1304.4 644.3 L1305.6 638.9 L1307.1 644.3 L1308.9 641.1 L1310.4 638.9 L1311.9 636.8 L1313.6 642.1 L1315.1 643.2 L1316.8 642.1 L1318.3 650.7 L1320.0 631.4 L1321.7 636.8 L1323.2 644.3 L1324.3 653.9 L1326.0 659.3 L1327.5 661.4 L1329.0 665.7 L1330.3 672.8 L1331.4 687.1 L1332.9 697.9 L1333.5 702.1 L1335.0 693.6 L1336.7 697.9 L1338.2 695.7 L1339.7 700.0 L1341.4 698.9 L1342.3 672.8 L1343.1 649.6 L1344.6 661.4 L1345.7 665.7 L1346.8 661.4 L1348.3 665.7 L1350.0 667.9 L1351.7 672.8 L1353.2 678.6 L1354.9 677.5 L1356.4 682.9 L1358.1 678.6 L1359.6 685.0 L1361.1 689.3 L1362.9 693.6 L1364.6 695.7 L1366.1 702.1 L1367.6 704.3 L1368.9 697.9 L1369.7 706.4 L1371.4 700.0 L1373.1 704.3 L1374.6 702.1 L1376.1 697.9 L1377.9 687.1 L1379.6 685.0 L1381.1 688.2 L1382.6 683.9 L1384.3 689.3 L1386.0 686.1 L1387.5 689.3 L1388.6 708.6 L1389.6 725.7 L1391.1 715.0 L1392.9 712.9 L1394.6 708.6 L1396.1 702.1 L1397.6 695.7 L1399.3 691.4 L1401.0 687.1 L1402.5 691.4 L1404.0 685.0 L1405.7 682.9 L1406.8 672.8 L1407.4 659.3 L1408.9 652.9 L1410.4 655.0 L1412.1 648.6 L1413.9 644.3 L1415.4 638.9 L1416.9 637.9 L1418.6 633.6 L1420.3 628.2 L1421.8 620.7 L1422.9 615.4 L1423.9 631.4 L1425.4 620.7 L1426.7 617.5 L1428.2 590.7 L1429.7 580.0 L1431.4 562.9 L1433.1 550.0 L1434.6 543.6 L1434.7 535.0 L1435.7 525.7 L1436.8 515.7 L1438.3 496.4 L1439.6 487.9 L1440.6 489.1 L1441.7 487.9 L1443.2 483.6 L1444.3 487.9 L1446.0 479.3 L1447.5 468.6 L1449.0 457.9 L1450.3 451.4 L1451.4 455.7 L1452.4 450.4 L1453.5 453.6 L1453.9 468.6 L1455.4 478.2 L1456.7 483.6 L1458.2 487.9 L1459.7 496.4 L1461.0 498.6 L1462.1 509.3 L1463.1 522.1 L1464.6 535.0 L1464.7 535.0 L1465.7 541.4 L1466.8 552.1 L1468.3 541.4 L1470.0 545.7 L1471.3 540.4 L1472.1 554.3 L1473.9 571.4 L1474.9 574.6 L1476.0 590.7 L1476.9 607.9 L1478.1 614.3 L1479.6 625.0 L1480.7 640.0 L1481.8 629.3 L1482.9 648.6 L1483.9 672.8 L1485.0 682.1 L1486.5 690.7 L1488.2 701.4 L1489.7 718.6 L1491.0 735.7 L1492.5 748.6 L1494.0 759.3 L1495.7 770.0 L1497.2 780.7 L1498.3 789.3 L1499.6 778.6 L1501.1 774.3 L1502.6 772.1 L1504.3 767.9 L1505.4 764.6 L1506.9 750.7 L1508.6 742.1 L1510.3 744.3 L1511.8 748.6 L1513.3 755.0 L1515.0 761.4 L1516.7 765.7 L1518.2 772.1 L1519.3 774.6 L1520.4 778.6 L1521.9 782.9 L1523.6 787.1 L1525.3 793.6 L1526.8 798.9 L1528.3 802.1 L1530.0 806.4 L1531.7 812.9 L1533.2 817.1 L1534.7 808.6 L1536.4 800.0 L1538.1 789.3 L1539.6 782.9 L1540.0 788.6 L1541.7 792.9 L1543.2 790.7 L1544.7 797.1 L1546.4 800.4 L1548.1 803.6 L1549.6 801.4 L1551.1 808.9 L1552.9 812.1 L1554.6 805.7 L1556.1 801.4 L1557.6 811.1 L1559.3 806.8 L1561.0 801.4 L1562.5 798.2 L1564.0 792.9 L1565.3 786.4 L1566.8 793.9 L1568.3 788.6 L1570.0 784.3 L1571.7 777.9 L1573.2 771.4 L1574.7 767.1 L1576.0 756.4 L1577.5 750.0 L1578.6 741.4 L1580.3 737.1 L1581.8 741.4 L1583.5 732.9 L1585.0 726.4 L1586.7 722.1 L1588.2 721.1 L1589.7 716.8 L1591.4 713.6 L1593.1 709.3 L1594.6 707.1 L1596.1 699.6 L1597.4 711.4 L1598.9 707.1 L1600.6 705.0 L1602.1 702.9 L1603.9 697.5 L1605.4 702.9 L1606.9 703.9 L1608.6 711.4 L1610.3 714.6 L1611.8 718.9 L1613.3 711.4 L1615.0 709.3 L1616.7 705.0 L1618.2 699.6 L1619.7 694.3 L1621.4 687.9 L1623.1 681.4 L1624.6 684.6 L1626.1 680.4 L1627.9 678.2 L1629.6 676.1 L1631.1 672.9 L1632.6 669.6 L1634.3 662.1 L1636.0 668.6 L1637.5 667.5 L1639.0 668.6 L1640.7 655.7 L1642.4 645.0 L1643.9 635.4 L1645.4 634.3 L1647.1 636.4 L1648.9 632.1 L1650.4 630.0 L1651.9 623.6 L1653.6 617.1 L1655.3 612.9 L1656.8 608.6 L1658.3 615.0 L1659.6 609.6 L1661.1 617.1 L1662.6 625.7 L1663.9 634.3 L1665.4 642.9 L1666.4 655.7 L1667.5 664.3 L1668.6 672.9 L1670.3 677.1 L1671.8 683.6 L1673.3 690.0 L1675.0 695.4 L1676.7 700.7 L1678.2 696.4 L1679.7 694.3 L1681.4 702.9 L1683.1 709.3 L1684.6 715.7 L1686.1 724.3 L1687.9 735.0 L1689.6 745.7 L1691.1 752.1 L1692.6 754.3 L1694.3 758.6 L1696.0 762.9 L1697.5 765.0 L1699.0 771.4 L1700.7 768.2 L1702.4 765.0 L1703.9 769.3 L1705.4 773.6 L1707.1 775.7 L1708.9 770.4 L1710.4 762.9 L1711.9 750.0 L1713.6 758.6 L1715.3 762.9 L1716.8 769.3 L1718.3 773.6 L1720.0 777.9 L1721.7 775.7 L1723.2 782.1 L1724.7 786.4 L1726.0 793.9 L1727.5 780.0 L1729.0 775.7 L1730.7 765.0 L1732.4 760.7 L1733.9 762.9 L1735.4 754.3 L1736.7 765.0 L1738.2 758.6 L1739.7 747.9 L1741.4 741.4 L1743.1 738.2 L1744.6 739.3 L1746.1 735.0 L1747.9 737.1 L1749.6 728.6 L1751.1 722.1 L1752.6 720.0 L1754.3 726.4 L1756.0 728.6 L1757.5 724.3 L1759.0 730.7 L1760.7 717.9 L1762.4 709.3 L1763.9 700.7 L1765.4 696.4 L1767.1 700.7 L1768.9 699.6 L1770.4 702.9 L1771.9 709.3 L1773.6 713.6 L1775.3 716.8 L1776.8 711.4 L1778.3 709.3 L1780.0 710.4 L1781.7 711.4 L1783.2 715.7 L1784.7 722.1 L1786.4 728.6 L1788.1 735.0 L1789.6 739.3 L1791.1 743.6 L1792.9 745.7 L1794.6 747.9 L1796.1 752.1 L1797.6 747.9 L1799.3 750.0 L1801.0 739.3 L1802.5 735.0 L1804.0 738.2 L1805.7 732.9 L1807.4 741.4 L1808.9 735.0 L1810.4 728.6 L1812.1 726.4 L1813.9 722.1 L1815.4 728.6 L1816.9 724.3 L1818.6 727.5 L1820.3 730.7 L1821.8 737.1 L1823.3 732.9 L1825.0 735.0 L1826.7 730.7 L1828.2 728.6 L1829.7 726.4 L1831.4 717.9 L1833.1 709.3 L1834.6 707.1 L1836.1 709.3 L1837.9 702.9 L1839.6 700.7 L1841.1 694.3 L1842.6 687.9 L1844.3 681.4 L1846.0 685.7 L1847.5 692.1 L1849.0 696.4 L1850.7 690.0 L1852.4 685.7 L1853.9 681.4 L1855.4 679.3 L1856.3 672.9 L1857.1 669.6 L1858.9 669.6 L1860.4 657.9 L1861.9 651.4 L1863.6 640.7 L1865.3 632.1 L1866.8 628.9 L1868.3 632.1 L1870.0 630.0 L1871.7 627.9 L1873.2 625.7 L1874.7 632.1 L1876.4 636.4 L1878.1 642.9 L1879.6 632.1 L1881.1 630.0 L1882.9 632.1 L1884.6 638.6 L1886.1 640.7 L1887.6 636.4 L1889.3 632.1 L1891.0 627.9 L1892.5 630.0 L1894.0 627.9 L1895.7 632.1 L1897.4 631.1 L1898.9 636.4 L1900.4 638.6 L1902.1 637.5 L1903.9 642.9 L1905.4 647.1 L1906.9 651.4 L1908.1 653.6 L1909.6 645.0 L1911.1 640.7 L1912.9 638.6 L1914.6 634.3 L1916.1 633.2 L1917.6 630.0 L1919.3 626.8 L1921.0 628.9 L1922.5 636.4 L1924.0 642.9 L1925.3 649.3 L1926.8 642.9 L1928.3 638.6 L1930.0 645.0 L1931.7 648.2 L1933.2 649.3 L1934.7 651.4 L1936.4 653.6 L1938.1 660.0 L1939.6 661.1 L1940.7 649.3 L1942.4 647.1 L1943.9 646.1 L1945.0 654.6 L1946.7 655.7 L1948.2 656.8 L1949.7 651.4 L1951.4 645.0 L1952.5 653.6 L1953.6 656.8 L1954.6 647.1 L1955.7 662.1 L1957.4 668.6 L1958.9 671.1 L1960.4 670.7 L1962.1 668.6 L1963.9 664.3 L1965.4 657.9 L1966.4 651.4 L1968.1 645.0 L1969.6 640.7 L1970.7 627.9 L1971.8 617.1 L1972.9 608.6 L1974.6 604.3 L1975.7 595.7 L1977.4 587.1 L1978.9 578.6 L1980.4 577.5 L1981.7 565.7 L1983.2 555.0 L1984.7 550.7 L1986.0 535.7 L1987.5 544.3 L1989.0 542.1 L1990.7 535.7 L1992.4 527.1 L1993.9 523.9 L1995.0 530.4 L1996.1 518.6 L1997.1 501.4 L1998.9 492.9 L2000.4 477.9 L2001.4 474.2 L2002.5 473.6 L2003.6 472.5 L2005.3 482.1 L2006.8 488.6 L2007.9 489.6 L2008.9 491.8 L2010.0 493.9 L2011.1 495.0 L2012.6 497.1 L2014.3 510.0 L2016.0 525.0 L2017.5 537.9 L2018.6 550.7 L2020.3 553.9 L2021.8 558.2 L2023.3 559.3 L2025.0 563.6 L2026.7 570.0 L2028.2 575.4 L2029.7 577.5 L2031.0 593.6 L2032.5 585.0 L2034.0 580.7 L2035.3 577.5 L2036.8 587.1 L2038.3 591.4 L2039.6 585.0 L2041.1 602.1 L2042.6 615.0 L2043.9 625.7 L2045.4 634.3 L2046.9 640.7 L2048.1 645.0 L2049.6 636.4 L2051.1 638.6 L2052.9 633.2 L2054.6 634.3 L2056.1 627.9 L2057.6 621.4 L2059.3 612.9 L2061.0 606.4 L2062.5 601.1 L2064.0 608.6 L2065.7 610.7 L2067.4 600.0 L2068.9 591.4 L2070.4 580.7 L2072.1 577.5 L2073.9 572.1 L2075.4 580.7 L2076.9 565.7 L2078.1 561.4 L2079.6 572.1 L2081.1 559.3 L2082.9 548.6 L2084.6 543.2 L2086.1 542.1 L2086.1 672.8 L164.3 672.8 Z" fill="url(#gf)" stroke="none"/>
<path d="M164.3 439.6 L165.9 440.6 L167.5 441.8 L169.1 437.1 L170.7 432.1 L172.0 440.4 L173.3 446.1 L175.0 452.5 L176.6 459.9 L178.2 467.5 L179.5 468.1 L180.8 468.6 L182.5 484.6 L183.6 481.7 L184.6 478.2 L186.1 481.4 L186.6 550.0 L186.8 625.1 L186.8 672.9 L187.2 702.9 L188.3 707.8 L189.4 714.6 L191.1 711.4 L192.7 711.5 L194.3 711.4 L195.4 712.4 L196.4 712.5 L197.5 706.9 L198.6 699.6 L200.2 696.3 L201.8 695.4 L203.4 690.5 L205.0 686.8 L205.6 678.2 L206.9 680.2 L208.2 684.6 L209.8 686.1 L211.4 685.7 L212.5 686.3 L213.6 685.7 L214.9 685.9 L216.1 688.9 L217.9 700.7 L219.5 709.7 L221.1 715.7 L222.8 718.9 L224.4 727.8 L226.0 733.9 L227.5 730.7 L229.0 735.0 L230.4 731.2 L231.8 726.4 L233.2 719.3 L234.6 711.4 L236.1 706.1 L237.1 705.6 L238.2 707.1 L239.6 704.6 L241.0 705.0 L242.1 704.0 L243.1 702.9 L244.6 707.1 L245.7 705.8 L246.8 707.1 L247.9 705.7 L248.9 706.1 L250.0 711.7 L251.1 718.9 L252.6 705.0 L254.0 702.0 L255.4 701.8 L256.4 700.6 L257.5 699.6 L258.9 700.0 L260.3 700.7 L261.4 692.6 L262.4 682.5 L263.5 676.7 L264.6 670.7 L265.6 667.4 L266.7 663.2 L268.0 660.0 L269.3 656.8 L270.8 657.9 L271.9 655.3 L273.6 664.3 L274.6 669.1 L275.7 672.9 L276.8 673.3 L277.9 673.9 L278.9 677.5 L280.0 682.5 L281.1 688.8 L282.1 692.1 L283.9 695.4 L285.4 691.1 L286.4 705.0 L287.5 706.5 L288.6 705.0 L289.9 705.5 L291.1 703.9 L292.2 706.2 L293.3 707.1 L294.6 696.4 L296.1 700.7 L297.1 707.1 L298.2 709.3 L299.3 712.5 L300.4 714.4 L301.4 717.9 L303.1 716.8 L304.0 705.0 L305.7 713.6 L307.4 702.9 L309.4 692.1 L311.1 684.6 L312.1 681.9 L313.2 680.4 L314.7 673.9 L316.4 657.9 L317.5 642.6 L318.6 630.0 L318.6 625.0 L320.2 608.1 L321.8 589.6 L322.9 588.8 L323.9 588.6 L325.0 575.7 L326.1 560.7 L327.7 540.0 L329.3 520.0 L330.7 502.1 L332.1 481.4 L333.4 480.3 L334.6 477.1 L335.7 470.8 L336.8 467.5 L337.9 467.7 L338.9 469.6 L340.0 446.7 L341.1 450.8 L342.1 452.5 L343.9 449.3 L345.1 450.3 L346.4 451.4 L347.7 451.8 L349.0 449.3 L350.3 462.1 L352.2 467.5 L353.9 463.2 L355.0 477.4 L356.1 492.1 L357.7 494.6 L359.3 499.6 L359.9 505.0 L361.2 500.6 L362.5 495.4 L363.6 496.7 L364.6 496.4 L365.7 508.6 L366.8 522.1 L367.9 516.6 L368.9 513.6 L370.3 508.8 L371.7 505.0 L373.2 543.6 L374.3 550.3 L375.4 554.3 L376.4 566.3 L377.5 576.8 L378.6 573.0 L379.6 571.4 L380.7 569.6 L381.8 569.3 L383.5 558.1 L385.0 569.3 L386.3 563.3 L387.6 559.6 L389.0 544.9 L390.4 532.9 L391.4 523.0 L392.5 511.4 L393.6 497.1 L394.6 484.6 L396.4 479.3 L397.9 484.6 L398.9 481.6 L400.0 478.2 L401.1 476.4 L402.1 475.0 L403.2 477.8 L404.3 482.5 L405.4 479.4 L406.4 475.0 L407.5 481.4 L408.6 490.0 L410.3 481.4 L411.6 493.1 L412.9 503.9 L413.9 504.4 L415.0 507.1 L416.5 518.9 L417.6 517.6 L418.6 516.8 L420.0 519.1 L421.4 523.2 L423.1 540.4 L424.4 532.7 L425.7 526.4 L426.8 539.6 L427.9 550.0 L429.1 553.1 L430.4 554.3 L431.7 566.1 L433.0 569.2 L434.3 573.6 L435.4 583.3 L436.4 590.7 L437.5 597.3 L438.6 605.7 L438.6 606.4 L439.2 621.4 L440.3 635.4 L441.4 628.1 L442.4 621.4 L443.7 618.2 L445.0 612.9 L446.7 616.1 L448.2 608.6 L449.3 619.3 L450.4 606.4 L451.4 623.6 L452.7 629.9 L454.0 635.4 L455.7 650.4 L456.8 641.7 L457.9 635.4 L458.9 650.2 L460.0 662.1 L461.1 672.9 L462.1 680.6 L463.2 690.0 L464.3 700.0 L465.4 711.4 L466.4 720.0 L467.5 714.6 L469.0 726.4 L470.7 739.3 L471.8 737.1 L472.9 742.2 L473.9 745.7 L475.4 756.4 L477.1 777.9 L478.9 797.1 L480.4 802.5 L481.4 803.6 L482.5 805.7 L483.6 808.3 L484.6 812.1 L485.7 814.1 L486.8 818.6 L487.9 820.0 L488.9 823.9 L490.0 822.6 L491.1 820.7 L492.6 805.7 L493.9 797.1 L494.9 799.6 L496.0 803.6 L497.3 803.3 L498.6 802.5 L499.6 798.9 L500.7 796.1 L501.8 792.2 L502.9 788.6 L503.9 754.3 L505.0 742.8 L506.1 728.6 L507.1 720.0 L508.2 711.4 L509.3 700.9 L510.4 690.0 L511.9 672.9 L513.1 657.9 L514.6 646.1 L515.7 662.1 L517.4 652.5 L518.9 660.0 L520.0 649.3 L521.1 636.4 L522.1 630.0 L523.6 603.6 L525.0 600.5 L526.4 599.3 L528.1 603.6 L529.4 597.2 L530.7 592.9 L531.8 594.6 L532.9 593.9 L534.5 586.8 L536.1 577.9 L537.7 585.1 L539.3 593.9 L540.4 591.4 L541.4 590.7 L542.9 595.0 L544.3 599.2 L545.7 601.4 L546.8 605.9 L547.9 612.1 L548.9 625.1 L550.4 636.4 L552.1 641.8 L553.9 646.1 L555.4 643.9 L556.9 649.3 L558.2 651.2 L559.6 650.4 L560.7 636.4 L562.4 621.4 L563.5 611.8 L565.0 617.1 L566.1 630.0 L567.1 633.3 L568.2 634.3 L569.3 637.3 L570.4 639.6 L571.4 636.2 L572.5 633.2 L574.0 632.1 L575.7 642.9 L576.8 647.0 L577.9 653.6 L578.9 656.5 L580.0 662.1 L581.7 672.9 L583.2 683.6 L584.3 688.2 L585.4 690.0 L586.4 692.4 L587.5 696.4 L588.6 697.6 L589.6 697.5 L591.4 700.7 L592.6 697.3 L593.9 695.4 L595.5 693.6 L597.1 690.0 L598.2 688.7 L599.3 686.8 L600.4 685.6 L601.4 685.7 L603.1 679.3 L604.6 670.7 L605.7 664.3 L606.8 666.5 L607.9 670.7 L608.9 666.6 L610.0 661.1 L611.7 651.4 L612.8 651.2 L613.9 653.6 L615.4 648.2 L616.4 648.5 L617.5 650.4 L619.1 646.8 L620.7 642.9 L621.8 640.2 L622.9 635.4 L623.9 633.0 L625.0 630.0 L626.7 623.6 L628.5 615.1 L630.4 607.9 L631.4 603.8 L632.5 597.1 L633.6 598.4 L634.6 601.4 L635.7 595.7 L636.8 592.9 L636.8 592.8 L638.2 599.6 L639.5 598.9 L640.8 599.6 L642.5 605.0 L643.6 607.0 L644.6 609.3 L646.0 608.0 L647.4 609.3 L648.5 612.6 L649.6 617.9 L651.1 626.4 L652.1 637.1 L653.2 630.7 L654.7 640.4 L656.4 642.5 L657.5 638.2 L658.6 642.6 L659.6 647.9 L660.7 651.3 L661.8 654.3 L662.9 654.3 L663.9 656.4 L665.4 660.7 L666.8 656.5 L668.2 653.2 L669.7 652.1 L671.4 659.6 L673.1 658.6 L674.2 660.8 L675.3 660.7 L676.1 645.7 L677.9 643.6 L679.6 641.0 L680.6 643.2 L681.7 642.5 L682.8 646.1 L683.9 646.6 L684.9 646.1 L686.0 656.4 L687.1 660.2 L688.1 662.9 L689.6 656.4 L690.7 655.4 L691.8 653.9 L692.9 653.0 L693.9 654.3 L695.6 653.2 L696.7 659.0 L698.0 656.9 L699.3 657.5 L701.0 656.4 L702.9 658.1 L704.6 645.7 L706.4 637.1 L708.3 633.9 L710.0 639.3 L711.7 639.3 L713.6 632.9 L715.4 622.1 L716.4 615.3 L717.5 611.4 L719.2 608.2 L720.7 607.1 L721.8 615.7 L722.9 609.3 L723.9 612.7 L725.0 613.6 L726.7 615.7 L727.8 615.8 L728.9 614.6 L730.4 605.0 L731.9 597.5 L733.6 597.5 L735.3 600.7 L736.8 606.1 L738.3 611.4 L740.0 610.4 L741.7 608.2 L742.8 611.4 L744.3 609.3 L745.4 615.7 L746.9 622.1 L748.6 624.3 L750.1 630.7 L751.8 639.3 L753.3 647.9 L755.0 650.0 L756.7 656.4 L758.2 665.0 L758.3 665.1 L759.3 672.8 L760.4 680.7 L761.9 693.6 L763.6 704.3 L765.3 710.7 L766.8 719.3 L767.9 722.3 L768.9 722.5 L769.6 730.0 L770.6 724.3 L771.7 721.4 L773.2 725.7 L774.7 732.1 L776.4 739.6 L778.1 741.8 L779.6 748.2 L781.1 751.4 L782.9 749.3 L783.9 751.8 L785.0 753.6 L786.7 757.4 L788.2 752.5 L789.3 753.5 L790.4 754.6 L792.1 751.4 L793.6 753.6 L795.3 750.4 L796.8 751.4 L798.3 740.7 L799.6 747.1 L801.1 742.9 L802.6 739.6 L804.3 732.1 L805.6 745.0 L806.9 735.4 L808.6 725.7 L810.3 715.0 L811.8 704.3 L813.5 700.0 L815.4 697.9 L817.1 689.3 L818.2 685.7 L819.3 680.7 L821.0 672.8 L821.9 666.8 L821.9 665.0 L823.3 663.4 L824.6 662.9 L825.7 662.7 L826.8 659.6 L827.9 657.3 L828.9 657.5 L830.0 658.2 L831.1 658.6 L832.1 658.2 L833.2 656.4 L834.3 657.6 L835.4 656.4 L836.4 653.4 L837.5 648.9 L839.0 641.4 L840.7 630.7 L842.4 628.6 L843.9 620.0 L845.0 614.2 L846.1 607.1 L847.6 592.1 L849.3 583.6 L850.4 577.1 L851.0 564.3 L852.5 577.1 L853.6 570.7 L855.3 575.0 L856.4 579.3 L857.4 583.6 L858.3 571.8 L860.0 568.6 L861.7 570.7 L863.2 573.9 L863.9 550.4 L864.9 568.6 L866.4 566.4 L867.5 567.5 L868.1 582.5 L869.6 580.4 L871.4 576.1 L872.9 577.1 L874.6 581.4 L876.1 580.4 L877.1 584.6 L878.6 582.5 L879.7 598.6 L881.4 600.7 L882.5 608.2 L884.0 610.4 L885.7 613.6 L887.4 617.9 L888.9 620.0 L890.0 614.6 L891.7 632.9 L893.2 640.4 L894.9 626.4 L896.4 632.9 L897.5 641.4 L899.2 647.9 L900.7 656.4 L902.4 665.0 L902.5 665.1 L903.3 672.8 L903.9 687.1 L905.0 692.3 L906.1 695.7 L907.6 708.6 L908.2 721.4 L909.3 730.0 L911.0 722.5 L912.5 725.7 L914.0 721.4 L915.7 723.6 L917.4 719.3 L918.9 722.5 L920.6 718.2 L922.6 717.1 L924.3 713.9 L925.4 704.3 L926.0 672.8 L926.4 665.1 L926.5 665.0 L927.5 646.8 L928.6 648.0 L929.6 646.8 L931.1 640.4 L932.9 641.4 L933.9 631.3 L935.0 622.1 L936.1 612.5 L937.1 612.3 L938.2 611.0 L939.7 617.9 L941.4 624.3 L943.1 622.1 L944.6 617.9 L946.4 614.6 L947.9 598.6 L948.9 581.4 L950.0 577.3 L951.1 570.7 L952.1 566.5 L953.2 560.0 L954.3 550.1 L955.4 540.7 L956.4 528.7 L957.5 515.0 L959.0 498.9 L960.7 504.3 L962.2 495.7 L963.9 494.6 L965.0 489.8 L966.1 482.9 L967.1 476.1 L968.2 468.9 L969.3 465.7 L970.8 468.9 L972.5 500.0 L973.6 498.9 L975.3 510.7 L976.8 519.3 L977.9 521.8 L978.9 523.6 L980.0 546.1 L981.1 535.5 L982.1 525.7 L983.9 516.1 L985.4 515.0 L986.4 509.4 L987.5 503.2 L989.0 502.1 L990.7 496.1 L992.4 502.1 L993.9 523.6 L995.4 517.1 L996.7 525.7 L998.2 522.5 L999.7 532.1 L1001.4 540.7 L1002.5 542.9 L1003.6 555.7 L1005.1 566.4 L1006.4 579.3 L1007.9 592.1 L1009.6 600.7 L1011.1 605.0 L1012.8 615.7 L1014.3 625.4 L1015.4 630.5 L1016.4 635.0 L1017.9 645.7 L1019.0 640.4 L1020.7 637.1 L1022.4 625.4 L1023.9 631.8 L1025.0 643.6 L1026.5 654.3 L1028.2 662.9 L1029.3 662.7 L1030.4 665.0 L1030.4 665.1 L1031.9 672.8 L1033.6 673.2 L1035.3 674.3 L1036.8 688.2 L1038.3 691.4 L1039.4 693.6 L1040.0 682.9 L1041.1 672.8 L1042.1 665.1 L1042.2 665.0 L1043.2 660.7 L1044.7 660.7 L1046.4 652.1 L1048.1 645.7 L1049.6 637.1 L1051.1 628.6 L1052.9 611.4 L1054.6 603.9 L1056.1 603.9 L1057.8 592.1 L1059.3 585.7 L1061.0 579.3 L1062.1 577.6 L1063.1 575.0 L1064.0 553.6 L1065.3 530.0 L1066.8 512.9 L1067.9 508.6 L1068.9 521.4 L1070.6 530.0 L1072.1 560.0 L1073.9 525.7 L1075.4 504.3 L1076.4 498.8 L1077.5 490.4 L1079.0 477.5 L1080.7 472.1 L1081.8 450.7 L1081.8 438.6 L1083.2 417.1 L1084.7 401.1 L1086.4 411.8 L1088.1 404.3 L1089.4 401.7 L1090.7 396.8 L1091.8 404.3 L1092.9 393.6 L1094.6 390.4 L1096.1 378.6 L1097.6 377.5 L1099.3 359.3 L1100.4 347.5 L1101.4 353.9 L1103.1 346.4 L1104.6 356.1 L1106.1 351.8 L1107.4 359.3 L1108.9 358.2 L1110.0 385.0 L1111.5 402.1 L1112.6 412.9 L1113.9 391.4 L1115.4 380.7 L1116.4 348.6 L1117.5 331.4 L1118.6 340.0 L1119.6 357.1 L1120.7 356.1 L1121.8 366.8 L1122.9 373.2 L1123.9 380.7 L1125.4 383.9 L1127.1 397.9 L1128.9 406.4 L1130.4 415.0 L1131.4 410.7 L1132.9 417.1 L1134.6 402.1 L1136.1 400.0 L1137.4 396.8 L1138.9 403.2 L1140.6 400.0 L1142.1 406.4 L1143.6 430.0 L1144.3 463.2 L1146.0 469.6 L1147.1 474.6 L1148.1 478.2 L1149.6 475.0 L1151.4 479.3 L1152.9 481.4 L1153.9 486.8 L1155.4 467.5 L1157.1 468.6 L1158.9 472.9 L1160.4 477.1 L1161.9 480.4 L1163.1 494.3 L1164.6 487.9 L1165.7 500.7 L1167.4 509.3 L1168.9 499.6 L1170.0 508.2 L1171.1 517.9 L1172.6 515.7 L1173.9 526.4 L1175.4 535.0 L1175.4 535.0 L1176.5 537.9 L1177.5 541.4 L1178.6 562.9 L1180.3 582.1 L1181.8 595.0 L1182.9 602.5 L1184.4 603.6 L1185.4 620.7 L1186.1 632.5 L1187.8 629.3 L1188.9 614.3 L1189.7 611.1 L1191.0 622.9 L1192.5 635.7 L1194.0 646.4 L1195.7 657.1 L1196.8 665.7 L1197.4 672.8 L1197.5 692.9 L1198.9 707.9 L1200.0 715.5 L1201.1 721.8 L1202.1 725.8 L1203.2 729.3 L1204.3 733.4 L1205.4 737.9 L1206.4 745.3 L1207.5 750.7 L1208.6 751.6 L1209.6 755.0 L1210.7 758.4 L1211.8 760.4 L1212.9 763.8 L1213.9 770.0 L1215.4 772.1 L1217.1 762.5 L1218.2 761.7 L1219.3 760.4 L1220.4 760.8 L1221.4 761.4 L1223.1 755.0 L1224.2 752.0 L1225.3 750.7 L1226.8 755.0 L1228.3 760.4 L1230.0 758.2 L1231.7 763.6 L1233.2 762.5 L1234.7 766.8 L1236.4 761.4 L1238.1 757.1 L1239.6 746.4 L1241.1 741.1 L1242.4 735.7 L1243.9 744.3 L1245.4 752.9 L1246.7 765.7 L1248.2 778.6 L1249.9 789.3 L1251.4 785.0 L1253.1 788.2 L1254.6 786.1 L1256.1 791.4 L1257.9 800.0 L1259.6 808.6 L1261.1 817.1 L1262.6 823.6 L1264.3 822.5 L1266.0 820.4 L1267.5 836.4 L1269.0 831.1 L1270.7 830.0 L1272.4 831.1 L1273.9 823.6 L1275.0 822.6 L1276.1 820.4 L1277.1 818.2 L1278.2 816.1 L1279.7 808.6 L1281.4 795.7 L1282.9 785.0 L1284.6 770.0 L1286.1 752.9 L1287.4 733.6 L1288.9 718.6 L1290.4 701.4 L1291.7 686.4 L1292.8 672.8 L1293.9 657.1 L1294.9 651.8 L1296.4 659.3 L1298.1 655.0 L1299.6 654.6 L1301.1 648.6 L1302.9 652.9 L1304.4 644.3 L1305.6 638.9 L1307.1 644.3 L1308.9 641.1 L1310.4 638.9 L1311.9 636.8 L1313.6 642.1 L1315.1 643.2 L1316.8 642.1 L1318.3 650.7 L1320.0 631.4 L1321.7 636.8 L1323.2 644.3 L1324.3 653.9 L1326.0 659.3 L1327.5 661.4 L1329.0 665.7 L1330.3 672.8 L1331.4 687.1 L1332.9 697.9 L1333.5 702.1 L1335.0 693.6 L1336.7 697.9 L1338.2 695.7 L1339.7 700.0 L1341.4 698.9 L1342.3 672.8 L1343.1 649.6 L1344.6 661.4 L1345.7 665.7 L1346.8 661.4 L1348.3 665.7 L1350.0 667.9 L1351.7 672.8 L1353.2 678.6 L1354.9 677.5 L1356.4 682.9 L1358.1 678.6 L1359.6 685.0 L1361.1 689.3 L1362.9 693.6 L1364.6 695.7 L1366.1 702.1 L1367.6 704.3 L1368.9 697.9 L1369.7 706.4 L1371.4 700.0 L1373.1 704.3 L1374.6 702.1 L1376.1 697.9 L1377.9 687.1 L1379.6 685.0 L1381.1 688.2 L1382.6 683.9 L1384.3 689.3 L1386.0 686.1 L1387.5 689.3 L1388.6 708.6 L1389.6 725.7 L1391.1 715.0 L1392.9 712.9 L1394.6 708.6 L1396.1 702.1 L1397.6 695.7 L1399.3 691.4 L1401.0 687.1 L1402.5 691.4 L1404.0 685.0 L1405.7 682.9 L1406.8 672.8 L1407.4 659.3 L1408.9 652.9 L1410.4 655.0 L1412.1 648.6 L1413.9 644.3 L1415.4 638.9 L1416.9 637.9 L1418.6 633.6 L1420.3 628.2 L1421.8 620.7 L1422.9 615.4 L1423.9 631.4 L1425.4 620.7 L1426.7 617.5 L1428.2 590.7 L1429.7 580.0 L1431.4 562.9 L1433.1 550.0 L1434.6 543.6 L1434.7 535.0 L1435.7 525.7 L1436.8 515.7 L1438.3 496.4 L1439.6 487.9 L1440.6 489.1 L1441.7 487.9 L1443.2 483.6 L1444.3 487.9 L1446.0 479.3 L1447.5 468.6 L1449.0 457.9 L1450.3 451.4 L1451.4 455.7 L1452.4 450.4 L1453.5 453.6 L1453.9 468.6 L1455.4 478.2 L1456.7 483.6 L1458.2 487.9 L1459.7 496.4 L1461.0 498.6 L1462.1 509.3 L1463.1 522.1 L1464.6 535.0 L1464.7 535.0 L1465.7 541.4 L1466.8 552.1 L1468.3 541.4 L1470.0 545.7 L1471.3 540.4 L1472.1 554.3 L1473.9 571.4 L1474.9 574.6 L1476.0 590.7 L1476.9 607.9 L1478.1 614.3 L1479.6 625.0 L1480.7 640.0 L1481.8 629.3 L1482.9 648.6 L1483.9 672.8 L1485.0 682.1 L1486.5 690.7 L1488.2 701.4 L1489.7 718.6 L1491.0 735.7 L1492.5 748.6 L1494.0 759.3 L1495.7 770.0 L1497.2 780.7 L1498.3 789.3 L1499.6 778.6 L1501.1 774.3 L1502.6 772.1 L1504.3 767.9 L1505.4 764.6 L1506.9 750.7 L1508.6 742.1 L1510.3 744.3 L1511.8 748.6 L1513.3 755.0 L1515.0 761.4 L1516.7 765.7 L1518.2 772.1 L1519.3 774.6 L1520.4 778.6 L1521.9 782.9 L1523.6 787.1 L1525.3 793.6 L1526.8 798.9 L1528.3 802.1 L1530.0 806.4 L1531.7 812.9 L1533.2 817.1 L1534.7 808.6 L1536.4 800.0 L1538.1 789.3 L1539.6 782.9 L1540.0 788.6 L1541.7 792.9 L1543.2 790.7 L1544.7 797.1 L1546.4 800.4 L1548.1 803.6 L1549.6 801.4 L1551.1 808.9 L1552.9 812.1 L1554.6 805.7 L1556.1 801.4 L1557.6 811.1 L1559.3 806.8 L1561.0 801.4 L1562.5 798.2 L1564.0 792.9 L1565.3 786.4 L1566.8 793.9 L1568.3 788.6 L1570.0 784.3 L1571.7 777.9 L1573.2 771.4 L1574.7 767.1 L1576.0 756.4 L1577.5 750.0 L1578.6 741.4 L1580.3 737.1 L1581.8 741.4 L1583.5 732.9 L1585.0 726.4 L1586.7 722.1 L1588.2 721.1 L1589.7 716.8 L1591.4 713.6 L1593.1 709.3 L1594.6 707.1 L1596.1 699.6 L1597.4 711.4 L1598.9 707.1 L1600.6 705.0 L1602.1 702.9 L1603.9 697.5 L1605.4 702.9 L1606.9 703.9 L1608.6 711.4 L1610.3 714.6 L1611.8 718.9 L1613.3 711.4 L1615.0 709.3 L1616.7 705.0 L1618.2 699.6 L1619.7 694.3 L1621.4 687.9 L1623.1 681.4 L1624.6 684.6 L1626.1 680.4 L1627.9 678.2 L1629.6 676.1 L1631.1 672.9 L1632.6 669.6 L1634.3 662.1 L1636.0 668.6 L1637.5 667.5 L1639.0 668.6 L1640.7 655.7 L1642.4 645.0 L1643.9 635.4 L1645.4 634.3 L1647.1 636.4 L1648.9 632.1 L1650.4 630.0 L1651.9 623.6 L1653.6 617.1 L1655.3 612.9 L1656.8 608.6 L1658.3 615.0 L1659.6 609.6 L1661.1 617.1 L1662.6 625.7 L1663.9 634.3 L1665.4 642.9 L1666.4 655.7 L1667.5 664.3 L1668.6 672.9 L1670.3 677.1 L1671.8 683.6 L1673.3 690.0 L1675.0 695.4 L1676.7 700.7 L1678.2 696.4 L1679.7 694.3 L1681.4 702.9 L1683.1 709.3 L1684.6 715.7 L1686.1 724.3 L1687.9 735.0 L1689.6 745.7 L1691.1 752.1 L1692.6 754.3 L1694.3 758.6 L1696.0 762.9 L1697.5 765.0 L1699.0 771.4 L1700.7 768.2 L1702.4 765.0 L1703.9 769.3 L1705.4 773.6 L1707.1 775.7 L1708.9 770.4 L1710.4 762.9 L1711.9 750.0 L1713.6 758.6 L1715.3 762.9 L1716.8 769.3 L1718.3 773.6 L1720.0 777.9 L1721.7 775.7 L1723.2 782.1 L1724.7 786.4 L1726.0 793.9 L1727.5 780.0 L1729.0 775.7 L1730.7 765.0 L1732.4 760.7 L1733.9 762.9 L1735.4 754.3 L1736.7 765.0 L1738.2 758.6 L1739.7 747.9 L1741.4 741.4 L1743.1 738.2 L1744.6 739.3 L1746.1 735.0 L1747.9 737.1 L1749.6 728.6 L1751.1 722.1 L1752.6 720.0 L1754.3 726.4 L1756.0 728.6 L1757.5 724.3 L1759.0 730.7 L1760.7 717.9 L1762.4 709.3 L1763.9 700.7 L1765.4 696.4 L1767.1 700.7 L1768.9 699.6 L1770.4 702.9 L1771.9 709.3 L1773.6 713.6 L1775.3 716.8 L1776.8 711.4 L1778.3 709.3 L1780.0 710.4 L1781.7 711.4 L1783.2 715.7 L1784.7 722.1 L1786.4 728.6 L1788.1 735.0 L1789.6 739.3 L1791.1 743.6 L1792.9 745.7 L1794.6 747.9 L1796.1 752.1 L1797.6 747.9 L1799.3 750.0 L1801.0 739.3 L1802.5 735.0 L1804.0 738.2 L1805.7 732.9 L1807.4 741.4 L1808.9 735.0 L1810.4 728.6 L1812.1 726.4 L1813.9 722.1 L1815.4 728.6 L1816.9 724.3 L1818.6 727.5 L1820.3 730.7 L1821.8 737.1 L1823.3 732.9 L1825.0 735.0 L1826.7 730.7 L1828.2 728.6 L1829.7 726.4 L1831.4 717.9 L1833.1 709.3 L1834.6 707.1 L1836.1 709.3 L1837.9 702.9 L1839.6 700.7 L1841.1 694.3 L1842.6 687.9 L1844.3 681.4 L1846.0 685.7 L1847.5 692.1 L1849.0 696.4 L1850.7 690.0 L1852.4 685.7 L1853.9 681.4 L1855.4 679.3 L1856.3 672.9 L1857.1 669.6 L1858.9 669.6 L1860.4 657.9 L1861.9 651.4 L1863.6 640.7 L1865.3 632.1 L1866.8 628.9 L1868.3 632.1 L1870.0 630.0 L1871.7 627.9 L1873.2 625.7 L1874.7 632.1 L1876.4 636.4 L1878.1 642.9 L1879.6 632.1 L1881.1 630.0 L1882.9 632.1 L1884.6 638.6 L1886.1 640.7 L1887.6 636.4 L1889.3 632.1 L1891.0 627.9 L1892.5 630.0 L1894.0 627.9 L1895.7 632.1 L1897.4 631.1 L1898.9 636.4 L1900.4 638.6 L1902.1 637.5 L1903.9 642.9 L1905.4 647.1 L1906.9 651.4 L1908.1 653.6 L1909.6 645.0 L1911.1 640.7 L1912.9 638.6 L1914.6 634.3 L1916.1 633.2 L1917.6 630.0 L1919.3 626.8 L1921.0 628.9 L1922.5 636.4 L1924.0 642.9 L1925.3 649.3 L1926.8 642.9 L1928.3 638.6 L1930.0 645.0 L1931.7 648.2 L1933.2 649.3 L1934.7 651.4 L1936.4 653.6 L1938.1 660.0 L1939.6 661.1 L1940.7 649.3 L1942.4 647.1 L1943.9 646.1 L1945.0 654.6 L1946.7 655.7 L1948.2 656.8 L1949.7 651.4 L1951.4 645.0 L1952.5 653.6 L1953.6 656.8 L1954.6 647.1 L1955.7 662.1 L1957.4 668.6 L1958.9 671.1 L1960.4 670.7 L1962.1 668.6 L1963.9 664.3 L1965.4 657.9 L1966.4 651.4 L1968.1 645.0 L1969.6 640.7 L1970.7 627.9 L1971.8 617.1 L1972.9 608.6 L1974.6 604.3 L1975.7 595.7 L1977.4 587.1 L1978.9 578.6 L1980.4 577.5 L1981.7 565.7 L1983.2 555.0 L1984.7 550.7 L1986.0 535.7 L1987.5 544.3 L1989.0 542.1 L1990.7 535.7 L1992.4 527.1 L1993.9 523.9 L1995.0 530.4 L1996.1 518.6 L1997.1 501.4 L1998.9 492.9 L2000.4 477.9 L2001.4 474.2 L2002.5 473.6 L2003.6 472.5 L2005.3 482.1 L2006.8 488.6 L2007.9 489.6 L2008.9 491.8 L2010.0 493.9 L2011.1 495.0 L2012.6 497.1 L2014.3 510.0 L2016.0 525.0 L2017.5 537.9 L2018.6 550.7 L2020.3 553.9 L2021.8 558.2 L2023.3 559.3 L2025.0 563.6 L2026.7 570.0 L2028.2 575.4 L2029.7 577.5 L2031.0 593.6 L2032.5 585.0 L2034.0 580.7 L2035.3 577.5 L2036.8 587.1 L2038.3 591.4 L2039.6 585.0 L2041.1 602.1 L2042.6 615.0 L2043.9 625.7 L2045.4 634.3 L2046.9 640.7 L2048.1 645.0 L2049.6 636.4 L2051.1 638.6 L2052.9 633.2 L2054.6 634.3 L2056.1 627.9 L2057.6 621.4 L2059.3 612.9 L2061.0 606.4 L2062.5 601.1 L2064.0 608.6 L2065.7 610.7 L2067.4 600.0 L2068.9 591.4 L2070.4 580.7 L2072.1 577.5 L2073.9 572.1 L2075.4 580.7 L2076.9 565.7 L2078.1 561.4 L2079.6 572.1 L2081.1 559.3 L2082.9 548.6 L2084.6 543.2 L2086.1 542.1" clip-path="url(#cu)" fill="none" stroke="#54a043" stroke-width="1.65" stroke-linejoin="miter" stroke-miterlimit="6"/>
<path d="M164.3 439.6 L165.9 440.6 L167.5 441.8 L169.1 437.1 L170.7 432.1 L172.0 440.4 L173.3 446.1 L175.0 452.5 L176.6 459.9 L178.2 467.5 L179.5 468.1 L180.8 468.6 L182.5 484.6 L183.6 481.7 L184.6 478.2 L186.1 481.4 L186.6 550.0 L186.8 625.1 L186.8 672.9 L187.2 702.9 L188.3 707.8 L189.4 714.6 L191.1 711.4 L192.7 711.5 L194.3 711.4 L195.4 712.4 L196.4 712.5 L197.5 706.9 L198.6 699.6 L200.2 696.3 L201.8 695.4 L203.4 690.5 L205.0 686.8 L205.6 678.2 L206.9 680.2 L208.2 684.6 L209.8 686.1 L211.4 685.7 L212.5 686.3 L213.6 685.7 L214.9 685.9 L216.1 688.9 L217.9 700.7 L219.5 709.7 L221.1 715.7 L222.8 718.9 L224.4 727.8 L226.0 733.9 L227.5 730.7 L229.0 735.0 L230.4 731.2 L231.8 726.4 L233.2 719.3 L234.6 711.4 L236.1 706.1 L237.1 705.6 L238.2 707.1 L239.6 704.6 L241.0 705.0 L242.1 704.0 L243.1 702.9 L244.6 707.1 L245.7 705.8 L246.8 707.1 L247.9 705.7 L248.9 706.1 L250.0 711.7 L251.1 718.9 L252.6 705.0 L254.0 702.0 L255.4 701.8 L256.4 700.6 L257.5 699.6 L258.9 700.0 L260.3 700.7 L261.4 692.6 L262.4 682.5 L263.5 676.7 L264.6 670.7 L265.6 667.4 L266.7 663.2 L268.0 660.0 L269.3 656.8 L270.8 657.9 L271.9 655.3 L273.6 664.3 L274.6 669.1 L275.7 672.9 L276.8 673.3 L277.9 673.9 L278.9 677.5 L280.0 682.5 L281.1 688.8 L282.1 692.1 L283.9 695.4 L285.4 691.1 L286.4 705.0 L287.5 706.5 L288.6 705.0 L289.9 705.5 L291.1 703.9 L292.2 706.2 L293.3 707.1 L294.6 696.4 L296.1 700.7 L297.1 707.1 L298.2 709.3 L299.3 712.5 L300.4 714.4 L301.4 717.9 L303.1 716.8 L304.0 705.0 L305.7 713.6 L307.4 702.9 L309.4 692.1 L311.1 684.6 L312.1 681.9 L313.2 680.4 L314.7 673.9 L316.4 657.9 L317.5 642.6 L318.6 630.0 L318.6 625.0 L320.2 608.1 L321.8 589.6 L322.9 588.8 L323.9 588.6 L325.0 575.7 L326.1 560.7 L327.7 540.0 L329.3 520.0 L330.7 502.1 L332.1 481.4 L333.4 480.3 L334.6 477.1 L335.7 470.8 L336.8 467.5 L337.9 467.7 L338.9 469.6 L340.0 446.7 L341.1 450.8 L342.1 452.5 L343.9 449.3 L345.1 450.3 L346.4 451.4 L347.7 451.8 L349.0 449.3 L350.3 462.1 L352.2 467.5 L353.9 463.2 L355.0 477.4 L356.1 492.1 L357.7 494.6 L359.3 499.6 L359.9 505.0 L361.2 500.6 L362.5 495.4 L363.6 496.7 L364.6 496.4 L365.7 508.6 L366.8 522.1 L367.9 516.6 L368.9 513.6 L370.3 508.8 L371.7 505.0 L373.2 543.6 L374.3 550.3 L375.4 554.3 L376.4 566.3 L377.5 576.8 L378.6 573.0 L379.6 571.4 L380.7 569.6 L381.8 569.3 L383.5 558.1 L385.0 569.3 L386.3 563.3 L387.6 559.6 L389.0 544.9 L390.4 532.9 L391.4 523.0 L392.5 511.4 L393.6 497.1 L394.6 484.6 L396.4 479.3 L397.9 484.6 L398.9 481.6 L400.0 478.2 L401.1 476.4 L402.1 475.0 L403.2 477.8 L404.3 482.5 L405.4 479.4 L406.4 475.0 L407.5 481.4 L408.6 490.0 L410.3 481.4 L411.6 493.1 L412.9 503.9 L413.9 504.4 L415.0 507.1 L416.5 518.9 L417.6 517.6 L418.6 516.8 L420.0 519.1 L421.4 523.2 L423.1 540.4 L424.4 532.7 L425.7 526.4 L426.8 539.6 L427.9 550.0 L429.1 553.1 L430.4 554.3 L431.7 566.1 L433.0 569.2 L434.3 573.6 L435.4 583.3 L436.4 590.7 L437.5 597.3 L438.6 605.7 L438.6 606.4 L439.2 621.4 L440.3 635.4 L441.4 628.1 L442.4 621.4 L443.7 618.2 L445.0 612.9 L446.7 616.1 L448.2 608.6 L449.3 619.3 L450.4 606.4 L451.4 623.6 L452.7 629.9 L454.0 635.4 L455.7 650.4 L456.8 641.7 L457.9 635.4 L458.9 650.2 L460.0 662.1 L461.1 672.9 L462.1 680.6 L463.2 690.0 L464.3 700.0 L465.4 711.4 L466.4 720.0 L467.5 714.6 L469.0 726.4 L470.7 739.3 L471.8 737.1 L472.9 742.2 L473.9 745.7 L475.4 756.4 L477.1 777.9 L478.9 797.1 L480.4 802.5 L481.4 803.6 L482.5 805.7 L483.6 808.3 L484.6 812.1 L485.7 814.1 L486.8 818.6 L487.9 820.0 L488.9 823.9 L490.0 822.6 L491.1 820.7 L492.6 805.7 L493.9 797.1 L494.9 799.6 L496.0 803.6 L497.3 803.3 L498.6 802.5 L499.6 798.9 L500.7 796.1 L501.8 792.2 L502.9 788.6 L503.9 754.3 L505.0 742.8 L506.1 728.6 L507.1 720.0 L508.2 711.4 L509.3 700.9 L510.4 690.0 L511.9 672.9 L513.1 657.9 L514.6 646.1 L515.7 662.1 L517.4 652.5 L518.9 660.0 L520.0 649.3 L521.1 636.4 L522.1 630.0 L523.6 603.6 L525.0 600.5 L526.4 599.3 L528.1 603.6 L529.4 597.2 L530.7 592.9 L531.8 594.6 L532.9 593.9 L534.5 586.8 L536.1 577.9 L537.7 585.1 L539.3 593.9 L540.4 591.4 L541.4 590.7 L542.9 595.0 L544.3 599.2 L545.7 601.4 L546.8 605.9 L547.9 612.1 L548.9 625.1 L550.4 636.4 L552.1 641.8 L553.9 646.1 L555.4 643.9 L556.9 649.3 L558.2 651.2 L559.6 650.4 L560.7 636.4 L562.4 621.4 L563.5 611.8 L565.0 617.1 L566.1 630.0 L567.1 633.3 L568.2 634.3 L569.3 637.3 L570.4 639.6 L571.4 636.2 L572.5 633.2 L574.0 632.1 L575.7 642.9 L576.8 647.0 L577.9 653.6 L578.9 656.5 L580.0 662.1 L581.7 672.9 L583.2 683.6 L584.3 688.2 L585.4 690.0 L586.4 692.4 L587.5 696.4 L588.6 697.6 L589.6 697.5 L591.4 700.7 L592.6 697.3 L593.9 695.4 L595.5 693.6 L597.1 690.0 L598.2 688.7 L599.3 686.8 L600.4 685.6 L601.4 685.7 L603.1 679.3 L604.6 670.7 L605.7 664.3 L606.8 666.5 L607.9 670.7 L608.9 666.6 L610.0 661.1 L611.7 651.4 L612.8 651.2 L613.9 653.6 L615.4 648.2 L616.4 648.5 L617.5 650.4 L619.1 646.8 L620.7 642.9 L621.8 640.2 L622.9 635.4 L623.9 633.0 L625.0 630.0 L626.7 623.6 L628.5 615.1 L630.4 607.9 L631.4 603.8 L632.5 597.1 L633.6 598.4 L634.6 601.4 L635.7 595.7 L636.8 592.9 L636.8 592.8 L638.2 599.6 L639.5 598.9 L640.8 599.6 L642.5 605.0 L643.6 607.0 L644.6 609.3 L646.0 608.0 L647.4 609.3 L648.5 612.6 L649.6 617.9 L651.1 626.4 L652.1 637.1 L653.2 630.7 L654.7 640.4 L656.4 642.5 L657.5 638.2 L658.6 642.6 L659.6 647.9 L660.7 651.3 L661.8 654.3 L662.9 654.3 L663.9 656.4 L665.4 660.7 L666.8 656.5 L668.2 653.2 L669.7 652.1 L671.4 659.6 L673.1 658.6 L674.2 660.8 L675.3 660.7 L676.1 645.7 L677.9 643.6 L679.6 641.0 L680.6 643.2 L681.7 642.5 L682.8 646.1 L683.9 646.6 L684.9 646.1 L686.0 656.4 L687.1 660.2 L688.1 662.9 L689.6 656.4 L690.7 655.4 L691.8 653.9 L692.9 653.0 L693.9 654.3 L695.6 653.2 L696.7 659.0 L698.0 656.9 L699.3 657.5 L701.0 656.4 L702.9 658.1 L704.6 645.7 L706.4 637.1 L708.3 633.9 L710.0 639.3 L711.7 639.3 L713.6 632.9 L715.4 622.1 L716.4 615.3 L717.5 611.4 L719.2 608.2 L720.7 607.1 L721.8 615.7 L722.9 609.3 L723.9 612.7 L725.0 613.6 L726.7 615.7 L727.8 615.8 L728.9 614.6 L730.4 605.0 L731.9 597.5 L733.6 597.5 L735.3 600.7 L736.8 606.1 L738.3 611.4 L740.0 610.4 L741.7 608.2 L742.8 611.4 L744.3 609.3 L745.4 615.7 L746.9 622.1 L748.6 624.3 L750.1 630.7 L751.8 639.3 L753.3 647.9 L755.0 650.0 L756.7 656.4 L758.2 665.0 L758.3 665.1 L759.3 672.8 L760.4 680.7 L761.9 693.6 L763.6 704.3 L765.3 710.7 L766.8 719.3 L767.9 722.3 L768.9 722.5 L769.6 730.0 L770.6 724.3 L771.7 721.4 L773.2 725.7 L774.7 732.1 L776.4 739.6 L778.1 741.8 L779.6 748.2 L781.1 751.4 L782.9 749.3 L783.9 751.8 L785.0 753.6 L786.7 757.4 L788.2 752.5 L789.3 753.5 L790.4 754.6 L792.1 751.4 L793.6 753.6 L795.3 750.4 L796.8 751.4 L798.3 740.7 L799.6 747.1 L801.1 742.9 L802.6 739.6 L804.3 732.1 L805.6 745.0 L806.9 735.4 L808.6 725.7 L810.3 715.0 L811.8 704.3 L813.5 700.0 L815.4 697.9 L817.1 689.3 L818.2 685.7 L819.3 680.7 L821.0 672.8 L821.9 666.8 L821.9 665.0 L823.3 663.4 L824.6 662.9 L825.7 662.7 L826.8 659.6 L827.9 657.3 L828.9 657.5 L830.0 658.2 L831.1 658.6 L832.1 658.2 L833.2 656.4 L834.3 657.6 L835.4 656.4 L836.4 653.4 L837.5 648.9 L839.0 641.4 L840.7 630.7 L842.4 628.6 L843.9 620.0 L845.0 614.2 L846.1 607.1 L847.6 592.1 L849.3 583.6 L850.4 577.1 L851.0 564.3 L852.5 577.1 L853.6 570.7 L855.3 575.0 L856.4 579.3 L857.4 583.6 L858.3 571.8 L860.0 568.6 L861.7 570.7 L863.2 573.9 L863.9 550.4 L864.9 568.6 L866.4 566.4 L867.5 567.5 L868.1 582.5 L869.6 580.4 L871.4 576.1 L872.9 577.1 L874.6 581.4 L876.1 580.4 L877.1 584.6 L878.6 582.5 L879.7 598.6 L881.4 600.7 L882.5 608.2 L884.0 610.4 L885.7 613.6 L887.4 617.9 L888.9 620.0 L890.0 614.6 L891.7 632.9 L893.2 640.4 L894.9 626.4 L896.4 632.9 L897.5 641.4 L899.2 647.9 L900.7 656.4 L902.4 665.0 L902.5 665.1 L903.3 672.8 L903.9 687.1 L905.0 692.3 L906.1 695.7 L907.6 708.6 L908.2 721.4 L909.3 730.0 L911.0 722.5 L912.5 725.7 L914.0 721.4 L915.7 723.6 L917.4 719.3 L918.9 722.5 L920.6 718.2 L922.6 717.1 L924.3 713.9 L925.4 704.3 L926.0 672.8 L926.4 665.1 L926.5 665.0 L927.5 646.8 L928.6 648.0 L929.6 646.8 L931.1 640.4 L932.9 641.4 L933.9 631.3 L935.0 622.1 L936.1 612.5 L937.1 612.3 L938.2 611.0 L939.7 617.9 L941.4 624.3 L943.1 622.1 L944.6 617.9 L946.4 614.6 L947.9 598.6 L948.9 581.4 L950.0 577.3 L951.1 570.7 L952.1 566.5 L953.2 560.0 L954.3 550.1 L955.4 540.7 L956.4 528.7 L957.5 515.0 L959.0 498.9 L960.7 504.3 L962.2 495.7 L963.9 494.6 L965.0 489.8 L966.1 482.9 L967.1 476.1 L968.2 468.9 L969.3 465.7 L970.8 468.9 L972.5 500.0 L973.6 498.9 L975.3 510.7 L976.8 519.3 L977.9 521.8 L978.9 523.6 L980.0 546.1 L981.1 535.5 L982.1 525.7 L983.9 516.1 L985.4 515.0 L986.4 509.4 L987.5 503.2 L989.0 502.1 L990.7 496.1 L992.4 502.1 L993.9 523.6 L995.4 517.1 L996.7 525.7 L998.2 522.5 L999.7 532.1 L1001.4 540.7 L1002.5 542.9 L1003.6 555.7 L1005.1 566.4 L1006.4 579.3 L1007.9 592.1 L1009.6 600.7 L1011.1 605.0 L1012.8 615.7 L1014.3 625.4 L1015.4 630.5 L1016.4 635.0 L1017.9 645.7 L1019.0 640.4 L1020.7 637.1 L1022.4 625.4 L1023.9 631.8 L1025.0 643.6 L1026.5 654.3 L1028.2 662.9 L1029.3 662.7 L1030.4 665.0 L1030.4 665.1 L1031.9 672.8 L1033.6 673.2 L1035.3 674.3 L1036.8 688.2 L1038.3 691.4 L1039.4 693.6 L1040.0 682.9 L1041.1 672.8 L1042.1 665.1 L1042.2 665.0 L1043.2 660.7 L1044.7 660.7 L1046.4 652.1 L1048.1 645.7 L1049.6 637.1 L1051.1 628.6 L1052.9 611.4 L1054.6 603.9 L1056.1 603.9 L1057.8 592.1 L1059.3 585.7 L1061.0 579.3 L1062.1 577.6 L1063.1 575.0 L1064.0 553.6 L1065.3 530.0 L1066.8 512.9 L1067.9 508.6 L1068.9 521.4 L1070.6 530.0 L1072.1 560.0 L1073.9 525.7 L1075.4 504.3 L1076.4 498.8 L1077.5 490.4 L1079.0 477.5 L1080.7 472.1 L1081.8 450.7 L1081.8 438.6 L1083.2 417.1 L1084.7 401.1 L1086.4 411.8 L1088.1 404.3 L1089.4 401.7 L1090.7 396.8 L1091.8 404.3 L1092.9 393.6 L1094.6 390.4 L1096.1 378.6 L1097.6 377.5 L1099.3 359.3 L1100.4 347.5 L1101.4 353.9 L1103.1 346.4 L1104.6 356.1 L1106.1 351.8 L1107.4 359.3 L1108.9 358.2 L1110.0 385.0 L1111.5 402.1 L1112.6 412.9 L1113.9 391.4 L1115.4 380.7 L1116.4 348.6 L1117.5 331.4 L1118.6 340.0 L1119.6 357.1 L1120.7 356.1 L1121.8 366.8 L1122.9 373.2 L1123.9 380.7 L1125.4 383.9 L1127.1 397.9 L1128.9 406.4 L1130.4 415.0 L1131.4 410.7 L1132.9 417.1 L1134.6 402.1 L1136.1 400.0 L1137.4 396.8 L1138.9 403.2 L1140.6 400.0 L1142.1 406.4 L1143.6 430.0 L1144.3 463.2 L1146.0 469.6 L1147.1 474.6 L1148.1 478.2 L1149.6 475.0 L1151.4 479.3 L1152.9 481.4 L1153.9 486.8 L1155.4 467.5 L1157.1 468.6 L1158.9 472.9 L1160.4 477.1 L1161.9 480.4 L1163.1 494.3 L1164.6 487.9 L1165.7 500.7 L1167.4 509.3 L1168.9 499.6 L1170.0 508.2 L1171.1 517.9 L1172.6 515.7 L1173.9 526.4 L1175.4 535.0 L1175.4 535.0 L1176.5 537.9 L1177.5 541.4 L1178.6 562.9 L1180.3 582.1 L1181.8 595.0 L1182.9 602.5 L1184.4 603.6 L1185.4 620.7 L1186.1 632.5 L1187.8 629.3 L1188.9 614.3 L1189.7 611.1 L1191.0 622.9 L1192.5 635.7 L1194.0 646.4 L1195.7 657.1 L1196.8 665.7 L1197.4 672.8 L1197.5 692.9 L1198.9 707.9 L1200.0 715.5 L1201.1 721.8 L1202.1 725.8 L1203.2 729.3 L1204.3 733.4 L1205.4 737.9 L1206.4 745.3 L1207.5 750.7 L1208.6 751.6 L1209.6 755.0 L1210.7 758.4 L1211.8 760.4 L1212.9 763.8 L1213.9 770.0 L1215.4 772.1 L1217.1 762.5 L1218.2 761.7 L1219.3 760.4 L1220.4 760.8 L1221.4 761.4 L1223.1 755.0 L1224.2 752.0 L1225.3 750.7 L1226.8 755.0 L1228.3 760.4 L1230.0 758.2 L1231.7 763.6 L1233.2 762.5 L1234.7 766.8 L1236.4 761.4 L1238.1 757.1 L1239.6 746.4 L1241.1 741.1 L1242.4 735.7 L1243.9 744.3 L1245.4 752.9 L1246.7 765.7 L1248.2 778.6 L1249.9 789.3 L1251.4 785.0 L1253.1 788.2 L1254.6 786.1 L1256.1 791.4 L1257.9 800.0 L1259.6 808.6 L1261.1 817.1 L1262.6 823.6 L1264.3 822.5 L1266.0 820.4 L1267.5 836.4 L1269.0 831.1 L1270.7 830.0 L1272.4 831.1 L1273.9 823.6 L1275.0 822.6 L1276.1 820.4 L1277.1 818.2 L1278.2 816.1 L1279.7 808.6 L1281.4 795.7 L1282.9 785.0 L1284.6 770.0 L1286.1 752.9 L1287.4 733.6 L1288.9 718.6 L1290.4 701.4 L1291.7 686.4 L1292.8 672.8 L1293.9 657.1 L1294.9 651.8 L1296.4 659.3 L1298.1 655.0 L1299.6 654.6 L1301.1 648.6 L1302.9 652.9 L1304.4 644.3 L1305.6 638.9 L1307.1 644.3 L1308.9 641.1 L1310.4 638.9 L1311.9 636.8 L1313.6 642.1 L1315.1 643.2 L1316.8 642.1 L1318.3 650.7 L1320.0 631.4 L1321.7 636.8 L1323.2 644.3 L1324.3 653.9 L1326.0 659.3 L1327.5 661.4 L1329.0 665.7 L1330.3 672.8 L1331.4 687.1 L1332.9 697.9 L1333.5 702.1 L1335.0 693.6 L1336.7 697.9 L1338.2 695.7 L1339.7 700.0 L1341.4 698.9 L1342.3 672.8 L1343.1 649.6 L1344.6 661.4 L1345.7 665.7 L1346.8 661.4 L1348.3 665.7 L1350.0 667.9 L1351.7 672.8 L1353.2 678.6 L1354.9 677.5 L1356.4 682.9 L1358.1 678.6 L1359.6 685.0 L1361.1 689.3 L1362.9 693.6 L1364.6 695.7 L1366.1 702.1 L1367.6 704.3 L1368.9 697.9 L1369.7 706.4 L1371.4 700.0 L1373.1 704.3 L1374.6 702.1 L1376.1 697.9 L1377.9 687.1 L1379.6 685.0 L1381.1 688.2 L1382.6 683.9 L1384.3 689.3 L1386.0 686.1 L1387.5 689.3 L1388.6 708.6 L1389.6 725.7 L1391.1 715.0 L1392.9 712.9 L1394.6 708.6 L1396.1 702.1 L1397.6 695.7 L1399.3 691.4 L1401.0 687.1 L1402.5 691.4 L1404.0 685.0 L1405.7 682.9 L1406.8 672.8 L1407.4 659.3 L1408.9 652.9 L1410.4 655.0 L1412.1 648.6 L1413.9 644.3 L1415.4 638.9 L1416.9 637.9 L1418.6 633.6 L1420.3 628.2 L1421.8 620.7 L1422.9 615.4 L1423.9 631.4 L1425.4 620.7 L1426.7 617.5 L1428.2 590.7 L1429.7 580.0 L1431.4 562.9 L1433.1 550.0 L1434.6 543.6 L1434.7 535.0 L1435.7 525.7 L1436.8 515.7 L1438.3 496.4 L1439.6 487.9 L1440.6 489.1 L1441.7 487.9 L1443.2 483.6 L1444.3 487.9 L1446.0 479.3 L1447.5 468.6 L1449.0 457.9 L1450.3 451.4 L1451.4 455.7 L1452.4 450.4 L1453.5 453.6 L1453.9 468.6 L1455.4 478.2 L1456.7 483.6 L1458.2 487.9 L1459.7 496.4 L1461.0 498.6 L1462.1 509.3 L1463.1 522.1 L1464.6 535.0 L1464.7 535.0 L1465.7 541.4 L1466.8 552.1 L1468.3 541.4 L1470.0 545.7 L1471.3 540.4 L1472.1 554.3 L1473.9 571.4 L1474.9 574.6 L1476.0 590.7 L1476.9 607.9 L1478.1 614.3 L1479.6 625.0 L1480.7 640.0 L1481.8 629.3 L1482.9 648.6 L1483.9 672.8 L1485.0 682.1 L1486.5 690.7 L1488.2 701.4 L1489.7 718.6 L1491.0 735.7 L1492.5 748.6 L1494.0 759.3 L1495.7 770.0 L1497.2 780.7 L1498.3 789.3 L1499.6 778.6 L1501.1 774.3 L1502.6 772.1 L1504.3 767.9 L1505.4 764.6 L1506.9 750.7 L1508.6 742.1 L1510.3 744.3 L1511.8 748.6 L1513.3 755.0 L1515.0 761.4 L1516.7 765.7 L1518.2 772.1 L1519.3 774.6 L1520.4 778.6 L1521.9 782.9 L1523.6 787.1 L1525.3 793.6 L1526.8 798.9 L1528.3 802.1 L1530.0 806.4 L1531.7 812.9 L1533.2 817.1 L1534.7 808.6 L1536.4 800.0 L1538.1 789.3 L1539.6 782.9 L1540.0 788.6 L1541.7 792.9 L1543.2 790.7 L1544.7 797.1 L1546.4 800.4 L1548.1 803.6 L1549.6 801.4 L1551.1 808.9 L1552.9 812.1 L1554.6 805.7 L1556.1 801.4 L1557.6 811.1 L1559.3 806.8 L1561.0 801.4 L1562.5 798.2 L1564.0 792.9 L1565.3 786.4 L1566.8 793.9 L1568.3 788.6 L1570.0 784.3 L1571.7 777.9 L1573.2 771.4 L1574.7 767.1 L1576.0 756.4 L1577.5 750.0 L1578.6 741.4 L1580.3 737.1 L1581.8 741.4 L1583.5 732.9 L1585.0 726.4 L1586.7 722.1 L1588.2 721.1 L1589.7 716.8 L1591.4 713.6 L1593.1 709.3 L1594.6 707.1 L1596.1 699.6 L1597.4 711.4 L1598.9 707.1 L1600.6 705.0 L1602.1 702.9 L1603.9 697.5 L1605.4 702.9 L1606.9 703.9 L1608.6 711.4 L1610.3 714.6 L1611.8 718.9 L1613.3 711.4 L1615.0 709.3 L1616.7 705.0 L1618.2 699.6 L1619.7 694.3 L1621.4 687.9 L1623.1 681.4 L1624.6 684.6 L1626.1 680.4 L1627.9 678.2 L1629.6 676.1 L1631.1 672.9 L1632.6 669.6 L1634.3 662.1 L1636.0 668.6 L1637.5 667.5 L1639.0 668.6 L1640.7 655.7 L1642.4 645.0 L1643.9 635.4 L1645.4 634.3 L1647.1 636.4 L1648.9 632.1 L1650.4 630.0 L1651.9 623.6 L1653.6 617.1 L1655.3 612.9 L1656.8 608.6 L1658.3 615.0 L1659.6 609.6 L1661.1 617.1 L1662.6 625.7 L1663.9 634.3 L1665.4 642.9 L1666.4 655.7 L1667.5 664.3 L1668.6 672.9 L1670.3 677.1 L1671.8 683.6 L1673.3 690.0 L1675.0 695.4 L1676.7 700.7 L1678.2 696.4 L1679.7 694.3 L1681.4 702.9 L1683.1 709.3 L1684.6 715.7 L1686.1 724.3 L1687.9 735.0 L1689.6 745.7 L1691.1 752.1 L1692.6 754.3 L1694.3 758.6 L1696.0 762.9 L1697.5 765.0 L1699.0 771.4 L1700.7 768.2 L1702.4 765.0 L1703.9 769.3 L1705.4 773.6 L1707.1 775.7 L1708.9 770.4 L1710.4 762.9 L1711.9 750.0 L1713.6 758.6 L1715.3 762.9 L1716.8 769.3 L1718.3 773.6 L1720.0 777.9 L1721.7 775.7 L1723.2 782.1 L1724.7 786.4 L1726.0 793.9 L1727.5 780.0 L1729.0 775.7 L1730.7 765.0 L1732.4 760.7 L1733.9 762.9 L1735.4 754.3 L1736.7 765.0 L1738.2 758.6 L1739.7 747.9 L1741.4 741.4 L1743.1 738.2 L1744.6 739.3 L1746.1 735.0 L1747.9 737.1 L1749.6 728.6 L1751.1 722.1 L1752.6 720.0 L1754.3 726.4 L1756.0 728.6 L1757.5 724.3 L1759.0 730.7 L1760.7 717.9 L1762.4 709.3 L1763.9 700.7 L1765.4 696.4 L1767.1 700.7 L1768.9 699.6 L1770.4 702.9 L1771.9 709.3 L1773.6 713.6 L1775.3 716.8 L1776.8 711.4 L1778.3 709.3 L1780.0 710.4 L1781.7 711.4 L1783.2 715.7 L1784.7 722.1 L1786.4 728.6 L1788.1 735.0 L1789.6 739.3 L1791.1 743.6 L1792.9 745.7 L1794.6 747.9 L1796.1 752.1 L1797.6 747.9 L1799.3 750.0 L1801.0 739.3 L1802.5 735.0 L1804.0 738.2 L1805.7 732.9 L1807.4 741.4 L1808.9 735.0 L1810.4 728.6 L1812.1 726.4 L1813.9 722.1 L1815.4 728.6 L1816.9 724.3 L1818.6 727.5 L1820.3 730.7 L1821.8 737.1 L1823.3 732.9 L1825.0 735.0 L1826.7 730.7 L1828.2 728.6 L1829.7 726.4 L1831.4 717.9 L1833.1 709.3 L1834.6 707.1 L1836.1 709.3 L1837.9 702.9 L1839.6 700.7 L1841.1 694.3 L1842.6 687.9 L1844.3 681.4 L1846.0 685.7 L1847.5 692.1 L1849.0 696.4 L1850.7 690.0 L1852.4 685.7 L1853.9 681.4 L1855.4 679.3 L1856.3 672.9 L1857.1 669.6 L1858.9 669.6 L1860.4 657.9 L1861.9 651.4 L1863.6 640.7 L1865.3 632.1 L1866.8 628.9 L1868.3 632.1 L1870.0 630.0 L1871.7 627.9 L1873.2 625.7 L1874.7 632.1 L1876.4 636.4 L1878.1 642.9 L1879.6 632.1 L1881.1 630.0 L1882.9 632.1 L1884.6 638.6 L1886.1 640.7 L1887.6 636.4 L1889.3 632.1 L1891.0 627.9 L1892.5 630.0 L1894.0 627.9 L1895.7 632.1 L1897.4 631.1 L1898.9 636.4 L1900.4 638.6 L1902.1 637.5 L1903.9 642.9 L1905.4 647.1 L1906.9 651.4 L1908.1 653.6 L1909.6 645.0 L1911.1 640.7 L1912.9 638.6 L1914.6 634.3 L1916.1 633.2 L1917.6 630.0 L1919.3 626.8 L1921.0 628.9 L1922.5 636.4 L1924.0 642.9 L1925.3 649.3 L1926.8 642.9 L1928.3 638.6 L1930.0 645.0 L1931.7 648.2 L1933.2 649.3 L1934.7 651.4 L1936.4 653.6 L1938.1 660.0 L1939.6 661.1 L1940.7 649.3 L1942.4 647.1 L1943.9 646.1 L1945.0 654.6 L1946.7 655.7 L1948.2 656.8 L1949.7 651.4 L1951.4 645.0 L1952.5 653.6 L1953.6 656.8 L1954.6 647.1 L1955.7 662.1 L1957.4 668.6 L1958.9 671.1 L1960.4 670.7 L1962.1 668.6 L1963.9 664.3 L1965.4 657.9 L1966.4 651.4 L1968.1 645.0 L1969.6 640.7 L1970.7 627.9 L1971.8 617.1 L1972.9 608.6 L1974.6 604.3 L1975.7 595.7 L1977.4 587.1 L1978.9 578.6 L1980.4 577.5 L1981.7 565.7 L1983.2 555.0 L1984.7 550.7 L1986.0 535.7 L1987.5 544.3 L1989.0 542.1 L1990.7 535.7 L1992.4 527.1 L1993.9 523.9 L1995.0 530.4 L1996.1 518.6 L1997.1 501.4 L1998.9 492.9 L2000.4 477.9 L2001.4 474.2 L2002.5 473.6 L2003.6 472.5 L2005.3 482.1 L2006.8 488.6 L2007.9 489.6 L2008.9 491.8 L2010.0 493.9 L2011.1 495.0 L2012.6 497.1 L2014.3 510.0 L2016.0 525.0 L2017.5 537.9 L2018.6 550.7 L2020.3 553.9 L2021.8 558.2 L2023.3 559.3 L2025.0 563.6 L2026.7 570.0 L2028.2 575.4 L2029.7 577.5 L2031.0 593.6 L2032.5 585.0 L2034.0 580.7 L2035.3 577.5 L2036.8 587.1 L2038.3 591.4 L2039.6 585.0 L2041.1 602.1 L2042.6 615.0 L2043.9 625.7 L2045.4 634.3 L2046.9 640.7 L2048.1 645.0 L2049.6 636.4 L2051.1 638.6 L2052.9 633.2 L2054.6 634.3 L2056.1 627.9 L2057.6 621.4 L2059.3 612.9 L2061.0 606.4 L2062.5 601.1 L2064.0 608.6 L2065.7 610.7 L2067.4 600.0 L2068.9 591.4 L2070.4 580.7 L2072.1 577.5 L2073.9 572.1 L2075.4 580.7 L2076.9 565.7 L2078.1 561.4 L2079.6 572.1 L2081.1 559.3 L2082.9 548.6 L2084.6 543.2 L2086.1 542.1" clip-path="url(#cd)" fill="none" stroke="#de463a" stroke-width="1.7" stroke-linejoin="miter" stroke-miterlimit="6"/>
<g font-family="Liberation Sans, sans-serif" font-size="27" fill="#b3b3c0" stroke="#b3b3c0" stroke-width="0.5">
<text x="141.6" y="245.2" text-anchor="end" textLength="72.5" lengthAdjust="spacingAndGlyphs">$4.5K</text>
<text x="141.6" y="338.5" text-anchor="end" textLength="51.4" lengthAdjust="spacingAndGlyphs">$4K</text>
<text x="141.6" y="431.8" text-anchor="end" textLength="72.5" lengthAdjust="spacingAndGlyphs">$3.5K</text>
<text x="141.6" y="525.1" text-anchor="end" textLength="50.5" lengthAdjust="spacingAndGlyphs">$3K</text>
<text x="141.6" y="618.3" text-anchor="end" textLength="72.5" lengthAdjust="spacingAndGlyphs">$2.5K</text>
<text x="141.6" y="711.6" text-anchor="end" textLength="50.5" lengthAdjust="spacingAndGlyphs">$2K</text>
<text x="141.6" y="804.9" text-anchor="end" textLength="67.7" lengthAdjust="spacingAndGlyphs">$1.5K</text>
<text x="141.6" y="898.2" text-anchor="end" textLength="43.5" lengthAdjust="spacingAndGlyphs">$1K</text>
<text x="2108.0" y="245.1" textLength="56.0" lengthAdjust="spacingAndGlyphs">20M</text>
<text x="2107.3" y="353.8" textLength="50.0" lengthAdjust="spacingAndGlyphs">15M</text>
<text x="2107.8" y="462.6" textLength="50.5" lengthAdjust="spacingAndGlyphs">10M</text>
<text x="2108.3" y="571.3" textLength="39.0" lengthAdjust="spacingAndGlyphs">5M</text>
<text x="2109.5" y="680.1">0</text>
<text x="2109.2" y="789.0" textLength="50.0" lengthAdjust="spacingAndGlyphs">-5M</text>
<text x="2109.2" y="898.1" textLength="62.0" lengthAdjust="spacingAndGlyphs">-10M</text>
<text x="301.2" y="936.2" text-anchor="middle" textLength="58.7" lengthAdjust="spacingAndGlyphs">2016</text>
<text x="485.0" y="936.2" text-anchor="middle" textLength="55.5" lengthAdjust="spacingAndGlyphs">2017</text>
<text x="667.6" y="936.2" text-anchor="middle" textLength="57.8" lengthAdjust="spacingAndGlyphs">2018</text>
<text x="850.3" y="936.2" text-anchor="middle" textLength="58.1" lengthAdjust="spacingAndGlyphs">2019</text>
<text x="1032.9" y="936.2" text-anchor="middle" textLength="64.0" lengthAdjust="spacingAndGlyphs">2020</text>
<text x="1216.0" y="936.2" text-anchor="middle" textLength="59.0" lengthAdjust="spacingAndGlyphs">2021</text>
<text x="1398.1" y="936.2" text-anchor="middle" textLength="63.7" lengthAdjust="spacingAndGlyphs">2022</text>
<text x="1580.8" y="936.2" text-anchor="middle" textLength="64.3" lengthAdjust="spacingAndGlyphs">2023</text>
<text x="1763.8" y="936.2" text-anchor="middle" textLength="63.2" lengthAdjust="spacingAndGlyphs">2024</text>
<text x="1946.7" y="936.2" text-anchor="middle" textLength="62.5" lengthAdjust="spacingAndGlyphs">2025</text>
<text transform="translate(45 565) rotate(-90)" text-anchor="middle" font-weight="bold" font-size="26" stroke="none" textLength="209" lengthAdjust="spacingAndGlyphs">Gold price (USD)</text>
<text transform="translate(2193.4 564) rotate(90)" text-anchor="middle" font-weight="bold" font-size="26" stroke="none">Gold Flow (Oz)</text>
</g>
<rect x="858" y="970" width="80" height="26" fill="#2f5c2c" stroke="#d9453a" stroke-width="2"/>
<rect x="1161" y="970" width="80.5" height="26" fill="#6e4c33" stroke="#f6a654" stroke-width="4"/>
<g font-family="Liberation Sans, sans-serif" font-size="26" fill="#ffffff" stroke="#ffffff" stroke-width="0.4"><text x="951" y="991" textLength="190.5" lengthAdjust="spacingAndGlyphs">90 Day Change</text><text x="1253.8" y="991" textLength="128" lengthAdjust="spacingAndGlyphs">Gold Price</text></g>
<g fill="#a9a9b5">
<path d="M1978 135 H1992 V145 H2002 V167 H1978 Z M1994 135 L2002 143 H1994 Z"/>
<path d="M2038 135 H2052 V145 H2062 V153.7 H2044.8 V167 H2038 Z M2054 135 L2062 143 H2054 Z"/>
<rect x="2107" y="148" width="6" height="6"/>
<rect x="2117" y="148" width="6" height="6"/>
<rect x="2127" y="148" width="6" height="6"/>
<path fill-rule="evenodd" d="M2174 141 H2183 L2184.5 137 H2195.5 L2197 141 H2206 V165 H2174 Z M2190 147.2 a5.8 5.8 0 1 0 0.01 0 Z"/>
</g>
<path d="M1988 151 l-4 4 l4 4 M1992 151 l4 4 l-4 4" fill="none" stroke="#161523" stroke-width="3"/>
<circle cx="2190" cy="153" r="1.6" fill="#a9a9b5" opacity="0.25"/>
<text x="2047.2" y="166.8" font-family="Liberation Mono, monospace" font-weight="bold" font-size="14.5" fill="#a9a9b5" stroke="#a9a9b5" stroke-width="0.5" textLength="23" lengthAdjust="spacingAndGlyphs">CSV</text>
</svg>
</body></html>
